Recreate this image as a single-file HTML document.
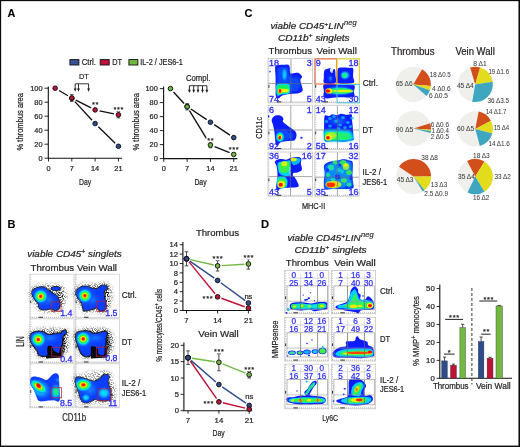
<!DOCTYPE html>
<html><head><meta charset="utf-8"><style>
html,body{margin:0;padding:0;background:#fff;}
svg{display:block;will-change:transform;}
text{font-family:"Liberation Sans",sans-serif;}
</style></head><body>
<svg width="520" height="447" viewBox="0 0 520 447">
<defs>
<filter id="b1" x="-20%" y="-20%" width="140%" height="140%"><feGaussianBlur stdDeviation="0.6"/></filter>
<filter id="b2" x="-30%" y="-30%" width="160%" height="160%"><feGaussianBlur stdDeviation="1.0"/></filter>
<filter id="b3" x="-50%" y="-50%" width="200%" height="200%"><feGaussianBlur stdDeviation="1.6"/></filter>
<filter id="b4" x="-50%" y="-50%" width="200%" height="200%"><feGaussianBlur stdDeviation="2.4"/></filter>
<filter id="speck" x="-30%" y="-30%" width="160%" height="160%">
<feGaussianBlur in="SourceGraphic" stdDeviation="2.2" result="bl"/>
<feTurbulence type="fractalNoise" baseFrequency="0.9" numOctaves="2" seed="7" result="nz"/>
<feColorMatrix in="nz" type="matrix" values="0 0 0 0 0  0 0 0 0 0  0 0 0 0 0  5 0 0 0 -2.2" result="nm"/>
<feComposite in="bl" in2="nm" operator="in"/>
</filter>
<radialGradient id="hot">
<stop offset="0" stop-color="#ff0000"/>
<stop offset="0.16" stop-color="#ff3000"/>
<stop offset="0.3" stop-color="#ffe800"/>
<stop offset="0.46" stop-color="#30ff20"/>
<stop offset="0.64" stop-color="#00e8f0"/>
<stop offset="0.82" stop-color="#1090ff" stop-opacity="0.8"/>
<stop offset="1" stop-color="#1060ff" stop-opacity="0"/>
</radialGradient>
<radialGradient id="warm">
<stop offset="0" stop-color="#ffff00"/>
<stop offset="0.35" stop-color="#40ff30"/>
<stop offset="0.7" stop-color="#00e8f0"/>
<stop offset="1" stop-color="#00c8ff" stop-opacity="0"/>
</radialGradient>
<radialGradient id="grn">
<stop offset="0" stop-color="#20ff40"/>
<stop offset="0.55" stop-color="#10f0a0"/>
<stop offset="0.8" stop-color="#00e0f0" stop-opacity="0.8"/>
<stop offset="1" stop-color="#00c0ff" stop-opacity="0"/>
</radialGradient>
<radialGradient id="cyan">
<stop offset="0" stop-color="#00f0f0"/>
<stop offset="0.5" stop-color="#10b8ff"/>
<stop offset="1" stop-color="#1080ff" stop-opacity="0"/>
</radialGradient>
<radialGradient id="lblue">
<stop offset="0" stop-color="#1890ff"/>
<stop offset="1" stop-color="#1060ff" stop-opacity="0"/>
</radialGradient>
</defs>
<rect x="0" y="0" width="520" height="447" fill="#fff"/>
<g fill="#231f20">
<text x="7.40" y="16.90" font-size="10.8" stroke="#000" stroke-width="0.1" font-weight="bold" fill="#000">A</text>
<rect x="69.90" y="59.60" width="9.00" height="5.40" fill="#355494" stroke="#111" stroke-width="0.9"/>
<text x="81.70" y="65.10" font-size="8.2" stroke="#231f20" stroke-width="0.22" fill="#231f20" textLength="14.2" lengthAdjust="spacingAndGlyphs">Ctrl.</text>
<rect x="100.20" y="59.60" width="9.00" height="5.40" fill="#be1237" stroke="#111" stroke-width="0.9"/>
<text x="112.30" y="65.10" font-size="8.2" stroke="#231f20" stroke-width="0.22" fill="#231f20" textLength="9.8" lengthAdjust="spacingAndGlyphs">DT</text>
<rect x="128.90" y="59.60" width="9.00" height="5.40" fill="#72b843" stroke="#111" stroke-width="0.9"/>
<text x="140.30" y="65.10" font-size="8.2" stroke="#231f20" stroke-width="0.22" fill="#231f20" textLength="42.5" lengthAdjust="spacingAndGlyphs">IL-2 / JES6-1</text>
<line x1="48.30" y1="86.50" x2="48.30" y2="158.60" stroke="#111" stroke-width="1.1"/>
<line x1="47.90" y1="158.20" x2="122.00" y2="158.20" stroke="#111" stroke-width="1.1"/>
<line x1="44.50" y1="158.20" x2="48.50" y2="158.20" stroke="#111" stroke-width="0.9"/>
<text x="42.50" y="160.80" font-size="7.4" stroke="#231f20" stroke-width="0.22" text-anchor="end" fill="#231f20">0</text>
<line x1="44.50" y1="144.20" x2="48.50" y2="144.20" stroke="#111" stroke-width="0.9"/>
<text x="42.50" y="146.80" font-size="7.4" stroke="#231f20" stroke-width="0.22" text-anchor="end" fill="#231f20">20</text>
<line x1="44.50" y1="130.20" x2="48.50" y2="130.20" stroke="#111" stroke-width="0.9"/>
<text x="42.50" y="132.80" font-size="7.4" stroke="#231f20" stroke-width="0.22" text-anchor="end" fill="#231f20">40</text>
<line x1="44.50" y1="116.20" x2="48.50" y2="116.20" stroke="#111" stroke-width="0.9"/>
<text x="42.50" y="118.80" font-size="7.4" stroke="#231f20" stroke-width="0.22" text-anchor="end" fill="#231f20">60</text>
<line x1="44.50" y1="102.20" x2="48.50" y2="102.20" stroke="#111" stroke-width="0.9"/>
<text x="42.50" y="104.80" font-size="7.4" stroke="#231f20" stroke-width="0.22" text-anchor="end" fill="#231f20">80</text>
<line x1="44.50" y1="88.20" x2="48.50" y2="88.20" stroke="#111" stroke-width="0.9"/>
<text x="42.50" y="90.80" font-size="7.4" stroke="#231f20" stroke-width="0.22" text-anchor="end" fill="#231f20">100</text>
<line x1="48.50" y1="158.20" x2="48.50" y2="161.50" stroke="#111" stroke-width="0.9"/>
<text x="48.50" y="171.20" font-size="7.4" stroke="#231f20" stroke-width="0.22" text-anchor="middle" fill="#231f20">0</text>
<line x1="71.81" y1="158.20" x2="71.81" y2="161.50" stroke="#111" stroke-width="0.9"/>
<text x="71.81" y="171.20" font-size="7.4" stroke="#231f20" stroke-width="0.22" text-anchor="middle" fill="#231f20">7</text>
<line x1="95.12" y1="158.20" x2="95.12" y2="161.50" stroke="#111" stroke-width="0.9"/>
<text x="95.12" y="171.20" font-size="7.4" stroke="#231f20" stroke-width="0.22" text-anchor="middle" fill="#231f20">14</text>
<line x1="118.43" y1="158.20" x2="118.43" y2="161.50" stroke="#111" stroke-width="0.9"/>
<text x="118.43" y="171.20" font-size="7.4" stroke="#231f20" stroke-width="0.22" text-anchor="middle" fill="#231f20">21</text>
<text x="85.20" y="184.70" font-size="9.0" stroke="#231f20" stroke-width="0.22" text-anchor="middle" fill="#231f20" textLength="12.2" lengthAdjust="spacingAndGlyphs">Day</text>
<text x="23.40" y="121.75" font-size="8.9" stroke="#231f20" stroke-width="0.22" text-anchor="middle" fill="#231f20" textLength="57.5" lengthAdjust="spacingAndGlyphs" transform="rotate(-90 23.40 121.75)">% thrombus area</text>
<text x="78.90" y="79.00" font-size="7.8" stroke="#231f20" stroke-width="0.22" fill="#231f20" textLength="9.9" lengthAdjust="spacingAndGlyphs">DT</text>
<line x1="75.20" y1="83.80" x2="88.60" y2="83.80" stroke="#231f20" stroke-width="0.9"/>
<line x1="75.20" y1="83.80" x2="75.20" y2="89.30" stroke="#231f20" stroke-width="0.95"/>
<path d="M73.75,88.40 L76.65,88.40 L75.20,91.80 Z" fill="#231f20"/>
<line x1="78.50" y1="83.80" x2="78.50" y2="89.30" stroke="#231f20" stroke-width="0.95"/>
<path d="M77.05,88.40 L79.95,88.40 L78.50,91.80 Z" fill="#231f20"/>
<line x1="88.60" y1="83.80" x2="88.60" y2="89.30" stroke="#231f20" stroke-width="0.95"/>
<path d="M87.15,88.40 L90.05,88.40 L88.60,91.80 Z" fill="#231f20"/>
<line x1="74.87" y1="101.65" x2="92.06" y2="120.25" stroke="#111" stroke-width="1.35"/>
<line x1="98.34" y1="126.69" x2="115.21" y2="143.16" stroke="#111" stroke-width="1.35"/>
<line x1="59.04" y1="90.48" x2="67.93" y2="95.72" stroke="#111" stroke-width="1.35"/>
<line x1="75.82" y1="100.05" x2="91.11" y2="107.85" stroke="#111" stroke-width="1.35"/>
<line x1="99.52" y1="110.83" x2="114.03" y2="113.87" stroke="#111" stroke-width="1.35"/>
<line x1="71.81" y1="94.64" x2="71.81" y2="101.36" stroke="#222" stroke-width="0.8"/>
<line x1="70.01" y1="94.64" x2="73.61" y2="94.64" stroke="#222" stroke-width="0.8"/>
<line x1="70.01" y1="101.36" x2="73.61" y2="101.36" stroke="#222" stroke-width="0.8"/>
<line x1="95.12" y1="109.06" x2="95.12" y2="110.74" stroke="#222" stroke-width="0.8"/>
<line x1="93.32" y1="109.06" x2="96.92" y2="109.06" stroke="#222" stroke-width="0.8"/>
<line x1="93.32" y1="110.74" x2="96.92" y2="110.74" stroke="#222" stroke-width="0.8"/>
<line x1="118.43" y1="111.72" x2="118.43" y2="117.88" stroke="#222" stroke-width="0.8"/>
<line x1="116.63" y1="111.72" x2="120.23" y2="111.72" stroke="#222" stroke-width="0.8"/>
<line x1="116.63" y1="117.88" x2="120.23" y2="117.88" stroke="#222" stroke-width="0.8"/>
<circle cx="71.81" cy="98.35" r="2.3" fill="#2e4b8b" stroke="#111" stroke-width="0.95"/>
<circle cx="95.12" cy="123.55" r="2.3" fill="#2e4b8b" stroke="#111" stroke-width="0.95"/>
<circle cx="118.43" cy="146.30" r="2.3" fill="#2e4b8b" stroke="#111" stroke-width="0.95"/>
<circle cx="55.16" cy="88.20" r="2.3" fill="#be1237" stroke="#111" stroke-width="0.95"/>
<circle cx="71.81" cy="98.00" r="2.3" fill="#be1237" stroke="#111" stroke-width="0.95"/>
<circle cx="95.12" cy="109.90" r="2.3" fill="#be1237" stroke="#111" stroke-width="0.95"/>
<circle cx="118.43" cy="114.80" r="2.3" fill="#be1237" stroke="#111" stroke-width="0.95"/>
<text x="95.47" y="106.99" font-size="7.4" stroke="#fff" stroke-width="2.6" text-anchor="middle" fill="#fff" letter-spacing="0.7">**</text>
<text x="95.47" y="106.99" font-size="7.4" stroke="#231f20" stroke-width="0.22" text-anchor="middle" fill="#231f20" letter-spacing="0.7">**</text>
<text x="118.78" y="111.75" font-size="7.4" stroke="#fff" stroke-width="2.6" text-anchor="middle" fill="#fff" letter-spacing="0.7">***</text>
<text x="118.78" y="111.75" font-size="7.4" stroke="#231f20" stroke-width="0.22" text-anchor="middle" fill="#231f20" letter-spacing="0.7">***</text>
<line x1="163.60" y1="86.50" x2="163.60" y2="159.00" stroke="#111" stroke-width="1.1"/>
<line x1="163.20" y1="158.60" x2="237.30" y2="158.60" stroke="#111" stroke-width="1.1"/>
<line x1="159.80" y1="158.60" x2="163.80" y2="158.60" stroke="#111" stroke-width="0.9"/>
<text x="157.80" y="161.20" font-size="7.4" stroke="#231f20" stroke-width="0.22" text-anchor="end" fill="#231f20">0</text>
<line x1="159.80" y1="144.60" x2="163.80" y2="144.60" stroke="#111" stroke-width="0.9"/>
<text x="157.80" y="147.20" font-size="7.4" stroke="#231f20" stroke-width="0.22" text-anchor="end" fill="#231f20">20</text>
<line x1="159.80" y1="130.60" x2="163.80" y2="130.60" stroke="#111" stroke-width="0.9"/>
<text x="157.80" y="133.20" font-size="7.4" stroke="#231f20" stroke-width="0.22" text-anchor="end" fill="#231f20">40</text>
<line x1="159.80" y1="116.60" x2="163.80" y2="116.60" stroke="#111" stroke-width="0.9"/>
<text x="157.80" y="119.20" font-size="7.4" stroke="#231f20" stroke-width="0.22" text-anchor="end" fill="#231f20">60</text>
<line x1="159.80" y1="102.60" x2="163.80" y2="102.60" stroke="#111" stroke-width="0.9"/>
<text x="157.80" y="105.20" font-size="7.4" stroke="#231f20" stroke-width="0.22" text-anchor="end" fill="#231f20">80</text>
<line x1="159.80" y1="88.60" x2="163.80" y2="88.60" stroke="#111" stroke-width="0.9"/>
<text x="157.80" y="91.20" font-size="7.4" stroke="#231f20" stroke-width="0.22" text-anchor="end" fill="#231f20">100</text>
<line x1="163.80" y1="158.60" x2="163.80" y2="161.90" stroke="#111" stroke-width="0.9"/>
<text x="163.80" y="171.20" font-size="7.4" stroke="#231f20" stroke-width="0.22" text-anchor="middle" fill="#231f20">0</text>
<line x1="187.11" y1="158.60" x2="187.11" y2="161.90" stroke="#111" stroke-width="0.9"/>
<text x="187.11" y="171.20" font-size="7.4" stroke="#231f20" stroke-width="0.22" text-anchor="middle" fill="#231f20">7</text>
<line x1="210.42" y1="158.60" x2="210.42" y2="161.90" stroke="#111" stroke-width="0.9"/>
<text x="210.42" y="171.20" font-size="7.4" stroke="#231f20" stroke-width="0.22" text-anchor="middle" fill="#231f20">14</text>
<line x1="233.73" y1="158.60" x2="233.73" y2="161.90" stroke="#111" stroke-width="0.9"/>
<text x="233.73" y="171.20" font-size="7.4" stroke="#231f20" stroke-width="0.22" text-anchor="middle" fill="#231f20">21</text>
<text x="200.50" y="184.70" font-size="9.0" stroke="#231f20" stroke-width="0.22" text-anchor="middle" fill="#231f20" textLength="12.2" lengthAdjust="spacingAndGlyphs">Day</text>
<text x="138.60" y="121.75" font-size="8.9" stroke="#231f20" stroke-width="0.22" text-anchor="middle" fill="#231f20" textLength="57.5" lengthAdjust="spacingAndGlyphs" transform="rotate(-90 138.60 121.75)">% thrombus area</text>
<text x="185.90" y="80.90" font-size="8.7" stroke="#231f20" stroke-width="0.22" fill="#231f20" textLength="24.4" lengthAdjust="spacingAndGlyphs">Compl.</text>
<line x1="189.40" y1="85.70" x2="206.90" y2="85.70" stroke="#231f20" stroke-width="0.9"/>
<line x1="189.40" y1="85.70" x2="189.40" y2="90.60" stroke="#231f20" stroke-width="0.95"/>
<path d="M187.95,89.70 L190.85,89.70 L189.40,93.10 Z" fill="#231f20"/>
<line x1="193.70" y1="85.70" x2="193.70" y2="90.60" stroke="#231f20" stroke-width="0.95"/>
<path d="M192.25,89.70 L195.15,89.70 L193.70,93.10 Z" fill="#231f20"/>
<line x1="198.00" y1="85.70" x2="198.00" y2="90.60" stroke="#231f20" stroke-width="0.95"/>
<path d="M196.55,89.70 L199.45,89.70 L198.00,93.10 Z" fill="#231f20"/>
<line x1="202.50" y1="85.70" x2="202.50" y2="90.60" stroke="#231f20" stroke-width="0.95"/>
<path d="M201.05,89.70 L203.95,89.70 L202.50,93.10 Z" fill="#231f20"/>
<line x1="206.90" y1="85.70" x2="206.90" y2="90.60" stroke="#231f20" stroke-width="0.95"/>
<path d="M205.45,89.70 L208.35,89.70 L206.90,93.10 Z" fill="#231f20"/>
<line x1="190.84" y1="108.97" x2="206.69" y2="119.68" stroke="#111" stroke-width="1.35"/>
<line x1="214.17" y1="124.68" x2="229.98" y2="135.12" stroke="#111" stroke-width="1.35"/>
<line x1="173.50" y1="91.92" x2="184.07" y2="103.48" stroke="#111" stroke-width="1.35"/>
<line x1="189.45" y1="110.64" x2="208.08" y2="141.18" stroke="#111" stroke-width="1.35"/>
<line x1="214.59" y1="146.70" x2="229.56" y2="152.72" stroke="#111" stroke-width="1.35"/>
<line x1="187.11" y1="103.65" x2="187.11" y2="109.95" stroke="#222" stroke-width="0.8"/>
<line x1="185.31" y1="103.65" x2="188.91" y2="103.65" stroke="#222" stroke-width="0.8"/>
<line x1="185.31" y1="109.95" x2="188.91" y2="109.95" stroke="#222" stroke-width="0.8"/>
<line x1="210.42" y1="142.29" x2="210.42" y2="147.75" stroke="#222" stroke-width="0.8"/>
<line x1="208.62" y1="142.29" x2="212.22" y2="142.29" stroke="#222" stroke-width="0.8"/>
<line x1="208.62" y1="147.75" x2="212.22" y2="147.75" stroke="#222" stroke-width="0.8"/>
<circle cx="187.11" cy="106.45" r="2.3" fill="#2e4b8b" stroke="#111" stroke-width="0.95"/>
<circle cx="210.42" cy="122.20" r="2.3" fill="#2e4b8b" stroke="#111" stroke-width="0.95"/>
<circle cx="233.73" cy="137.60" r="2.3" fill="#2e4b8b" stroke="#111" stroke-width="0.95"/>
<circle cx="170.46" cy="88.60" r="2.3" fill="#72b843" stroke="#111" stroke-width="0.95"/>
<circle cx="187.11" cy="106.80" r="2.3" fill="#72b843" stroke="#111" stroke-width="0.95"/>
<circle cx="210.42" cy="145.02" r="2.3" fill="#72b843" stroke="#111" stroke-width="0.95"/>
<circle cx="233.73" cy="154.40" r="2.3" fill="#72b843" stroke="#111" stroke-width="0.95"/>
<text x="210.77" y="142.95" font-size="7.4" stroke="#fff" stroke-width="2.6" text-anchor="middle" fill="#fff" letter-spacing="0.7">**</text>
<text x="210.77" y="142.95" font-size="7.4" stroke="#231f20" stroke-width="0.22" text-anchor="middle" fill="#231f20" letter-spacing="0.7">**</text>
<text x="234.08" y="152.40" font-size="7.4" stroke="#fff" stroke-width="2.6" text-anchor="middle" fill="#fff" letter-spacing="0.7">***</text>
<text x="234.08" y="152.40" font-size="7.4" stroke="#231f20" stroke-width="0.22" text-anchor="middle" fill="#231f20" letter-spacing="0.7">***</text>
<text x="244.40" y="16.70" font-size="11.0" stroke="#000" stroke-width="0.1" font-weight="bold" fill="#000">C</text>
<text x="270.40" y="29.00" font-size="9.0" fill="#231f20" stroke="#231f20" stroke-width="0.22" font-style="italic" textLength="73.2" lengthAdjust="spacingAndGlyphs">viable CD45<tspan font-size="6.12" dy="-3.2">+</tspan><tspan dy="3.2">LIN</tspan></text>
<text x="344.00" y="25.40" font-size="7.0" stroke="#231f20" stroke-width="0.15" font-style="italic" fill="#231f20" textLength="12.6" lengthAdjust="spacingAndGlyphs">neg</text>
<text x="278.00" y="40.60" font-size="9.2" fill="#231f20" stroke="#231f20" stroke-width="0.22" font-style="italic" textLength="71.6" lengthAdjust="spacingAndGlyphs">CD11b<tspan font-size="6.26" dy="-3.2">+</tspan><tspan dy="3.2"> singlets</tspan></text>
<text x="268.50" y="54.40" font-size="9.3" stroke="#231f20" stroke-width="0.22" fill="#231f20" textLength="43.6" lengthAdjust="spacingAndGlyphs">Thrombus</text>
<text x="316.60" y="54.40" font-size="9.3" stroke="#231f20" stroke-width="0.22" fill="#231f20" textLength="40.3" lengthAdjust="spacingAndGlyphs">Vein Wall</text>
<rect x="268.00" y="58.60" width="44.40" height="44.20" fill="#fff" stroke="#c4c4c4" stroke-width="0.8"/>
<rect x="314.80" y="58.60" width="44.40" height="44.20" fill="#fff" stroke="#c4c4c4" stroke-width="0.8"/>
<rect x="268.00" y="105.20" width="44.40" height="44.20" fill="#fff" stroke="#c4c4c4" stroke-width="0.8"/>
<rect x="314.80" y="105.20" width="44.40" height="44.20" fill="#fff" stroke="#c4c4c4" stroke-width="0.8"/>
<rect x="268.00" y="152.00" width="44.40" height="44.20" fill="#fff" stroke="#c4c4c4" stroke-width="0.8"/>
<rect x="314.80" y="152.00" width="44.40" height="44.20" fill="#fff" stroke="#c4c4c4" stroke-width="0.8"/>
<path d="M276.19,65.63 C277.49,65.03 280.75,64.90 282.90,64.84 C285.04,64.79 287.84,63.95 289.05,65.29 C290.26,66.63 289.61,71.54 290.17,72.90 C290.73,74.26 291.01,73.46 292.40,73.46 C293.80,73.46 296.94,72.34 298.56,72.90 C300.18,73.46 301.86,75.60 302.14,76.81 C302.42,78.02 300.27,78.58 300.23,80.17 C300.20,81.75 301.52,84.55 301.91,86.32 C302.30,88.09 303.14,89.64 302.58,90.79 C302.02,91.95 300.35,92.75 298.56,93.26 C296.77,93.76 294.46,93.48 291.85,93.81 C289.24,94.15 285.13,94.50 282.90,95.27 C280.66,96.03 279.58,98.18 278.42,98.40 C277.27,98.62 276.43,98.25 275.96,96.61 C275.50,94.97 275.68,91.76 275.63,88.56 C275.57,85.35 275.72,80.73 275.63,77.37 C275.53,74.02 274.97,70.38 275.07,68.42 C275.16,66.47 274.88,66.22 276.19,65.63 Z" fill="#0a1cff" filter="url(#b1)"/>
<path d="M277.86,68.42 C279.54,66.84 285.51,66.93 287.37,67.86 C289.24,68.80 288.30,72.43 289.05,74.02 C289.79,75.60 290.26,76.81 291.85,77.37 C293.43,77.93 297.25,75.51 298.56,77.37 C299.86,79.24 300.79,86.13 299.68,88.56 C298.56,90.98 295.01,91.17 291.85,91.91 C288.68,92.66 283.08,93.59 280.66,93.03 C278.24,92.47 277.86,91.17 277.30,88.56 C276.74,85.95 277.21,80.73 277.30,77.37 C277.40,74.02 276.19,70.01 277.86,68.42 Z" fill="#0a48ff" filter="url(#b2)"/>
<ellipse cx="284.50" cy="74.50" rx="3.2" ry="7.5" fill="url(#cyan)" filter="url(#b1)" opacity="0.9"/>
<path d="M276.74,84.64 C277.86,83.43 280.85,83.58 282.90,83.52 C284.95,83.47 287.89,83.47 289.05,84.31 C290.21,85.15 289.83,87.01 289.83,88.56 C289.83,90.10 290.39,92.62 289.05,93.59 C287.71,94.56 283.70,94.00 281.78,94.37 C279.86,94.75 278.46,96.42 277.53,95.83 C276.60,95.23 276.32,92.66 276.19,90.79 C276.06,88.93 275.63,85.85 276.74,84.64 Z" fill="#00d8f8" filter="url(#b1)"/>
<path d="M277.53,85.76 C278.68,84.79 282.19,84.92 284.02,84.98 C285.84,85.03 287.71,84.94 288.49,86.10 C289.27,87.25 289.65,90.72 288.71,91.91 C287.78,93.11 284.65,92.84 282.90,93.26 C281.14,93.67 279.17,94.78 278.20,94.37 C277.23,93.96 277.19,92.23 277.08,90.79 C276.97,89.36 276.37,86.73 277.53,85.76 Z" fill="#10f060" filter="url(#b1)"/>
<ellipse cx="284.00" cy="90.60" rx="5.0" ry="1.9" fill="#f8f000" filter="url(#b1)"/>
<ellipse cx="280.20" cy="90.90" rx="2.3" ry="2.6" fill="#f8f000" filter="url(#b1)"/>
<ellipse cx="280.00" cy="90.90" rx="1.4" ry="2.0" fill="#ff1000" filter="url(#b1)"/>
<ellipse cx="270.00" cy="71.50" rx="0.7" ry="1.0" fill="#0a1cff"/>
<path d="M324.32,70.66 C324.80,69.26 325.72,69.39 326.78,68.98 C327.84,68.57 329.76,68.01 330.69,68.20 C331.63,68.39 331.68,69.91 332.37,70.10 C333.06,70.29 334.31,68.48 334.83,69.32 C335.35,70.16 335.43,72.86 335.50,75.13 C335.58,77.41 337.11,81.62 335.28,82.96 C333.45,84.31 326.44,84.12 324.54,83.19 C322.64,82.26 323.91,79.46 323.87,77.37 C323.83,75.28 323.83,72.06 324.32,70.66 Z" fill="#0a1cff" filter="url(#b1)"/>
<path d="M337.96,68.42 C339.05,67.16 341.51,67.62 343.56,67.53 C345.61,67.43 348.67,67.71 350.27,67.86 C351.87,68.01 352.71,67.02 353.18,68.42 C353.64,69.82 353.06,73.83 353.06,76.25 C353.06,78.68 355.79,81.81 353.18,82.96 C350.57,84.12 340.09,84.49 337.40,83.19 C334.72,81.88 336.98,77.60 337.07,75.13 C337.16,72.67 336.88,69.69 337.96,68.42 Z" fill="#0a1cff" filter="url(#b1)"/>
<path d="M324.32,84.31 C326.67,83.23 333.08,84.19 337.96,84.31 C342.85,84.42 350.98,83.71 353.62,84.98 C356.27,86.25 353.89,89.90 353.85,91.91 C353.81,93.93 356.05,96.16 353.40,97.06 C350.75,97.95 342.74,97.11 337.96,97.28 C333.19,97.45 327.11,99.15 324.77,98.06 C322.42,96.98 323.94,93.09 323.87,90.79 C323.80,88.50 321.97,85.39 324.32,84.31 Z" fill="#0a1cff" filter="url(#b1)"/>
<path d="M330.13,68.98 C330.56,68.46 332.56,67.99 332.93,68.65 C333.30,69.30 332.80,72.38 332.37,72.90 C331.94,73.42 330.73,72.43 330.36,71.78 C329.99,71.13 329.71,69.50 330.13,68.98 Z" fill="#ffffff" filter="url(#b1)" opacity="0.85"/>
<ellipse cx="345.00" cy="75.20" rx="5.5" ry="5.0" fill="url(#cyan)" filter="url(#b1)"/>
<ellipse cx="344.50" cy="75.50" rx="2.6" ry="2.4" fill="#20f080" filter="url(#b1)" opacity="0.9"/>
<ellipse cx="330.50" cy="78.50" rx="3.0" ry="4.0" fill="url(#lblue)" filter="url(#b1)"/>
<ellipse cx="339.50" cy="90.80" rx="15.5" ry="5.2" fill="url(#cyan)" filter="url(#b1)"/>
<ellipse cx="340.50" cy="91.00" rx="13.0" ry="3.0" fill="#20f070" filter="url(#b1)" opacity="0.95"/>
<ellipse cx="343.00" cy="91.00" rx="10.0" ry="1.3" fill="#f0f000" filter="url(#b1)" opacity="0.95"/>
<ellipse cx="329.00" cy="90.90" rx="3.6" ry="2.6" fill="#f0f000" filter="url(#b1)"/>
<ellipse cx="327.80" cy="91.00" rx="2.3" ry="1.8" fill="#ff1000" filter="url(#b1)"/>
<path d="M274.51,115.98 C276.00,115.27 279.17,115.18 280.66,115.65 C282.15,116.11 283.08,117.79 283.46,118.78 C283.83,119.77 282.24,120.46 282.90,121.57 C283.55,122.69 285.97,124.37 287.37,125.49 C288.77,126.61 289.98,127.32 291.29,128.29 C292.59,129.26 294.33,130.09 295.20,131.31 C296.08,132.52 296.64,134.07 296.54,135.56 C296.45,137.05 295.61,139.40 294.64,140.26 C293.67,141.11 292.87,140.44 290.73,140.70 C288.58,140.96 284.02,141.04 281.78,141.82 C279.54,142.60 278.33,145.14 277.30,145.40 C276.28,145.66 276.00,144.65 275.63,143.39 C275.25,142.12 275.25,139.66 275.07,137.79 C274.88,135.93 274.88,134.44 274.51,132.20 C274.13,129.96 273.30,126.42 272.83,124.37 C272.36,122.32 271.43,121.30 271.71,119.90 C271.99,118.50 273.02,116.69 274.51,115.98 Z" fill="#0a1cff" filter="url(#b1)"/>
<path d="M276.19,131.08 C277.58,129.78 282.52,129.59 285.13,129.96 C287.74,130.34 290.54,132.01 291.85,133.32 C293.15,134.62 293.71,136.68 292.96,137.79 C292.22,138.91 289.61,139.57 287.37,140.03 C285.13,140.50 281.31,140.96 279.54,140.59 C277.77,140.22 277.30,139.38 276.74,137.79 C276.19,136.21 274.79,132.39 276.19,131.08 Z" fill="#0a48ff" filter="url(#b2)"/>
<ellipse cx="280.00" cy="137.00" rx="4.8" ry="5.6" fill="url(#hot)"/>
<ellipse cx="279.60" cy="137.80" rx="1.3" ry="1.6" fill="#ff0000" filter="url(#b1)"/>
<ellipse cx="301.40" cy="137.80" rx="1.1" ry="1.0" fill="#0a1cff"/>
<ellipse cx="268.60" cy="116.40" rx="0.7" ry="1.2" fill="#0a1cff"/>
<path d="M324.32,117.66 C324.58,115.76 324.78,115.48 325.66,115.20 C326.54,114.92 328.46,116.13 329.57,115.98 C330.69,115.83 331.16,114.43 332.37,114.30 C333.58,114.17 335.35,115.29 336.85,115.20 C338.34,115.11 339.64,113.80 341.32,113.74 C343.00,113.69 345.20,114.73 346.91,114.86 C348.63,114.99 350.77,113.88 351.61,114.53 C352.45,115.18 351.80,117.14 351.95,118.78 C352.10,120.42 352.32,122.32 352.51,124.37 C352.69,126.42 352.92,128.85 353.06,131.08 C353.21,133.32 353.38,136.30 353.40,137.79 C353.42,139.29 354.82,139.38 353.18,140.03 C351.54,140.68 347.02,141.49 343.56,141.71 C340.09,141.93 335.45,141.43 332.37,141.37 C329.30,141.32 326.52,142.34 325.10,141.37 C323.68,140.40 324.04,138.02 323.87,135.56 C323.70,133.10 324.02,129.59 324.09,126.61 C324.17,123.63 324.06,119.56 324.32,117.66 Z" fill="#0a1cff" filter="url(#b1)"/>
<ellipse cx="338.00" cy="121.00" rx="13" ry="6" fill="url(#lblue)" filter="url(#b2)" opacity="0.8"/>
<ellipse cx="330.00" cy="118.50" rx="1.8" ry="1.5" fill="#10c0ff" filter="url(#b1)" opacity="0.75"/>
<ellipse cx="336.00" cy="121.00" rx="1.8" ry="1.5" fill="#10c0ff" filter="url(#b1)" opacity="0.75"/>
<ellipse cx="343.00" cy="117.50" rx="1.8" ry="1.5" fill="#10c0ff" filter="url(#b1)" opacity="0.75"/>
<ellipse cx="348.00" cy="122.50" rx="1.8" ry="1.5" fill="#10c0ff" filter="url(#b1)" opacity="0.75"/>
<ellipse cx="340.00" cy="125.00" rx="1.8" ry="1.5" fill="#10c0ff" filter="url(#b1)" opacity="0.75"/>
<ellipse cx="330.00" cy="126.00" rx="1.8" ry="1.5" fill="#10c0ff" filter="url(#b1)" opacity="0.75"/>
<ellipse cx="352.00" cy="118.00" rx="1.8" ry="1.5" fill="#10c0ff" filter="url(#b1)" opacity="0.75"/>
<ellipse cx="345.00" cy="127.50" rx="1.8" ry="1.5" fill="#10c0ff" filter="url(#b1)" opacity="0.75"/>
<ellipse cx="326.50" cy="121.50" rx="1.8" ry="1.5" fill="#10c0ff" filter="url(#b1)" opacity="0.75"/>
<ellipse cx="334.00" cy="116.50" rx="1.8" ry="1.5" fill="#10c0ff" filter="url(#b1)" opacity="0.75"/>
<ellipse cx="350.50" cy="126.50" rx="1.8" ry="1.5" fill="#10c0ff" filter="url(#b1)" opacity="0.75"/>
<ellipse cx="338.50" cy="128.50" rx="1.8" ry="1.5" fill="#10c0ff" filter="url(#b1)" opacity="0.75"/>
<path d="M324.32,130.19 C325.70,129.16 329.16,129.44 332.37,129.40 C335.58,129.37 340.57,129.68 343.56,129.96 C346.54,130.24 348.68,130.15 350.27,131.08 C351.85,132.01 352.60,134.07 353.06,135.56 C353.53,137.05 354.65,139.06 353.06,140.03 C351.48,141.00 347.01,141.19 343.56,141.37 C340.11,141.56 335.45,141.19 332.37,141.15 C329.30,141.11 326.48,142.08 325.10,141.15 C323.72,140.22 324.22,137.38 324.09,135.56 C323.96,133.73 322.94,131.21 324.32,130.19 Z" fill="#00d8f0" filter="url(#b2)"/>
<path d="M325.10,132.76 C326.74,132.07 331.53,131.98 334.61,131.98 C337.68,131.98 341.13,132.44 343.56,132.76 C345.98,133.08 347.94,133.04 349.15,133.88 C350.36,134.72 351.39,136.81 350.83,137.79 C350.27,138.78 348.87,139.40 345.79,139.81 C342.72,140.22 335.73,140.22 332.37,140.26 C329.02,140.29 326.93,140.72 325.66,140.03 C324.39,139.34 324.86,137.33 324.77,136.12 C324.67,134.90 323.46,133.45 325.10,132.76 Z" fill="#20f070" filter="url(#b1)"/>
<ellipse cx="331.50" cy="135.50" rx="5.0" ry="3.5" fill="#c0f020" filter="url(#b1)" opacity="0.8"/>
<ellipse cx="328.50" cy="137.40" rx="3.4" ry="3.0" fill="#f8f000" filter="url(#b1)"/>
<ellipse cx="328.00" cy="137.80" rx="1.9" ry="1.7" fill="#ff1000" filter="url(#b1)"/>
<path d="M274.84,161.86 C275.31,160.56 277.64,159.44 279.54,159.07 C281.44,158.69 284.30,159.85 286.25,159.63 C288.21,159.40 289.24,158.15 291.29,157.72 C293.34,157.30 296.88,156.83 298.56,157.05 C300.23,157.28 300.98,157.99 301.35,159.07 C301.73,160.15 300.70,161.77 300.79,163.54 C300.89,165.31 302.47,168.20 301.91,169.69 C301.35,171.18 298.84,171.93 297.44,172.49 C296.04,173.05 294.27,172.49 293.52,173.05 C292.78,173.61 292.68,175.01 292.96,175.85 C293.24,176.68 294.27,176.59 295.20,178.08 C296.13,179.57 298.18,183.30 298.56,184.79 C298.93,186.29 298.74,186.57 297.44,187.03 C296.13,187.50 293.34,187.37 290.73,187.59 C288.12,187.81 284.02,187.87 281.78,188.37 C279.54,188.88 278.24,191.02 277.30,190.61 C276.37,190.20 276.15,188.19 276.19,185.91 C276.22,183.64 277.43,180.13 277.53,176.96 C277.62,173.79 277.19,169.41 276.74,166.90 C276.30,164.38 274.38,163.17 274.84,161.86 Z" fill="#0a1cff" filter="url(#b1)"/>
<path d="M278.42,162.42 C280.01,161.21 285.32,160.93 287.37,160.74 C289.42,160.56 290.26,159.53 290.73,161.30 C291.19,163.08 290.45,168.95 290.17,171.37 C289.89,173.79 290.07,175.10 289.05,175.85 C288.02,176.59 285.60,176.22 284.02,175.85 C282.43,175.47 280.57,174.91 279.54,173.61 C278.52,172.30 278.05,169.88 277.86,168.02 C277.68,166.15 276.84,163.63 278.42,162.42 Z" fill="#00d0f8" filter="url(#b1)"/>
<path d="M280.10,162.98 C281.50,161.77 286.35,161.58 287.93,161.86 C289.52,162.14 289.52,163.08 289.61,164.66 C289.70,166.24 289.61,169.97 288.49,171.37 C287.37,172.77 284.39,173.42 282.90,173.05 C281.41,172.68 280.01,170.81 279.54,169.13 C279.08,167.46 278.70,164.19 280.10,162.98 Z" fill="#40f040" filter="url(#b1)" opacity="0.95"/>
<ellipse cx="284.30" cy="163.80" rx="3.0" ry="2.5" fill="#e8f010" filter="url(#b1)" opacity="0.9"/>
<path d="M291.29,158.51 C292.26,157.72 295.89,157.54 297.44,157.72 C298.99,157.91 300.38,158.66 300.57,159.63 C300.76,160.60 299.64,162.61 298.56,163.54 C297.48,164.47 295.24,165.41 294.08,165.22 C292.93,165.03 292.09,163.54 291.62,162.42 C291.16,161.30 290.32,159.29 291.29,158.51 Z" fill="#00c8f8" filter="url(#b1)" opacity="0.9"/>
<ellipse cx="293.60" cy="159.60" rx="3.2" ry="1.8" fill="#f0f000" filter="url(#b1)" opacity="0.9"/>
<ellipse cx="296.00" cy="166.00" rx="1.5" ry="1.5" fill="#0a1cff" filter="url(#b1)" opacity="0.8"/>
<path d="M277.53,177.52 C278.65,175.94 282.38,175.94 284.02,176.40 C285.66,176.87 287.00,178.55 287.37,180.32 C287.74,182.09 287.37,185.73 286.25,187.03 C285.13,188.34 282.15,188.34 280.66,188.15 C279.17,187.96 277.83,187.68 277.30,185.91 C276.78,184.14 276.41,179.11 277.53,177.52 Z" fill="#00d8f0" filter="url(#b1)"/>
<path d="M278.20,179.76 C279.13,178.68 282.11,178.03 283.46,178.31 C284.80,178.59 285.97,180.08 286.25,181.44 C286.53,182.80 286.07,185.50 285.13,186.47 C284.20,187.44 281.87,187.53 280.66,187.26 C279.45,186.98 278.27,186.04 277.86,184.79 C277.45,183.55 277.27,180.84 278.20,179.76 Z" fill="#30f050" filter="url(#b1)"/>
<ellipse cx="281.30" cy="184.50" rx="3.6" ry="3.4" fill="#f8f000" filter="url(#b1)"/>
<ellipse cx="280.70" cy="184.80" rx="2.1" ry="2.0" fill="#ff1000" filter="url(#b1)"/>
<rect x="289.6" y="167" width="1.2" height="9" fill="#fff" filter="url(#b1)" opacity="0.8"/>
<path d="M323.98,165.78 C324.60,163.88 326.87,162.98 328.46,162.20 C330.04,161.42 331.72,161.42 333.49,161.08 C335.26,160.74 337.40,160.48 339.08,160.19 C340.76,159.89 341.97,159.29 343.56,159.29 C345.14,159.29 347.10,159.76 348.59,160.19 C350.08,160.61 351.82,160.37 352.51,161.86 C353.20,163.35 352.77,166.80 352.73,169.13 C352.69,171.46 352.23,173.61 352.28,175.85 C352.34,178.08 352.95,180.47 353.06,182.56 C353.18,184.65 354.54,187.29 352.95,188.37 C351.37,189.45 346.99,188.99 343.56,189.04 C340.13,189.10 335.45,188.67 332.37,188.71 C329.30,188.75 326.52,190.29 325.10,189.27 C323.68,188.24 323.93,185.17 323.87,182.56 C323.81,179.95 324.75,176.40 324.77,173.61 C324.78,170.81 323.37,167.68 323.98,165.78 Z" fill="#0a1cff" filter="url(#b1)"/>
<path d="M325.66,166.34 C326.87,163.77 329.39,163.52 332.37,162.65 C335.35,161.77 340.39,161.02 343.56,161.08 C346.73,161.14 350.08,160.52 351.39,162.98 C352.69,165.44 351.39,171.84 351.39,175.85 C351.39,179.85 353.62,185.02 351.39,187.03 C349.15,189.04 342.25,187.78 337.96,187.93 C333.68,188.08 327.80,189.57 325.66,187.93 C323.52,186.29 325.10,181.68 325.10,178.08 C325.10,174.48 324.45,168.91 325.66,166.34 Z" fill="#10b0f8" filter="url(#b2)" opacity="0.75"/>
<ellipse cx="331.00" cy="167.50" rx="3.0" ry="3.0" fill="#20e8a0" filter="url(#b1)" opacity="0.9"/>
<ellipse cx="335.00" cy="162.50" rx="2.5" ry="2.0" fill="#30f060" filter="url(#b1)" opacity="0.85"/>
<ellipse cx="343.00" cy="163.00" rx="3.5" ry="3.0" fill="#40f050" filter="url(#b1)" opacity="0.85"/>
<ellipse cx="346.00" cy="166.50" rx="3.2" ry="3.6" fill="#a0f030" filter="url(#b1)" opacity="0.9"/>
<ellipse cx="349.00" cy="172.50" rx="3.0" ry="2.5" fill="#40f050" filter="url(#b1)" opacity="0.85"/>
<ellipse cx="342.00" cy="171.50" rx="2.0" ry="2.0" fill="#10d8d0" filter="url(#b1)" opacity="0.8"/>
<ellipse cx="328.00" cy="175.00" rx="2.2" ry="2.0" fill="#20e890" filter="url(#b1)" opacity="0.85"/>
<ellipse cx="344.00" cy="180.50" rx="3.0" ry="2.2" fill="#40f050" filter="url(#b1)" opacity="0.85"/>
<ellipse cx="349.00" cy="184.50" rx="2.5" ry="2.0" fill="#20e890" filter="url(#b1)" opacity="0.85"/>
<ellipse cx="338.50" cy="170.00" rx="2.2" ry="2.0" fill="#20e0c0" filter="url(#b1)" opacity="0.7"/>
<ellipse cx="333.00" cy="179.50" rx="2.5" ry="1.8" fill="#20e0b0" filter="url(#b1)" opacity="0.8"/>
<ellipse cx="337.60" cy="177.00" rx="2.6" ry="2.4" fill="#0a1cff" filter="url(#b1)" opacity="0.75"/>
<ellipse cx="327.50" cy="170.00" rx="1.8" ry="1.8" fill="#0a1cff" filter="url(#b1)" opacity="0.75"/>
<ellipse cx="340.00" cy="165.00" rx="1.6" ry="1.5" fill="#0a1cff" filter="url(#b1)" opacity="0.75"/>
<ellipse cx="351.00" cy="178.00" rx="1.6" ry="2.0" fill="#0a1cff" filter="url(#b1)" opacity="0.75"/>
<ellipse cx="336.00" cy="186.50" rx="1.5" ry="1.2" fill="#0a1cff" filter="url(#b1)" opacity="0.75"/>
<ellipse cx="346.50" cy="187.50" rx="1.8" ry="1.2" fill="#0a1cff" filter="url(#b1)" opacity="0.75"/>
<ellipse cx="346.00" cy="165.20" rx="1.8" ry="1.8" fill="#f8f000" filter="url(#b1)" opacity="0.9"/>
<ellipse cx="333.50" cy="184.50" rx="8.0" ry="3.8" fill="#c0f020" filter="url(#b1)" opacity="0.9"/>
<ellipse cx="332.00" cy="184.60" rx="6.2" ry="3.2" fill="#f8d000" filter="url(#b1)"/>
<ellipse cx="330.80" cy="184.80" rx="4.4" ry="2.4" fill="#ff3000" filter="url(#b1)"/>
<line x1="291.00" y1="59.00" x2="291.00" y2="102.40" stroke="#6a6a6a" stroke-width="0.6"/>
<line x1="268.40" y1="83.50" x2="312.00" y2="83.50" stroke="#6a6a6a" stroke-width="0.6"/>
<line x1="290.80" y1="105.60" x2="290.80" y2="149.00" stroke="#6a6a6a" stroke-width="0.6"/>
<line x1="268.40" y1="130.00" x2="312.00" y2="130.00" stroke="#6a6a6a" stroke-width="0.6"/>
<line x1="290.50" y1="152.40" x2="290.50" y2="195.80" stroke="#6a6a6a" stroke-width="0.6"/>
<line x1="268.40" y1="176.60" x2="312.00" y2="176.60" stroke="#6a6a6a" stroke-width="0.6"/>
<line x1="337.40" y1="105.60" x2="337.40" y2="149.00" stroke="#6a6a6a" stroke-width="0.6"/>
<line x1="315.20" y1="130.00" x2="358.80" y2="130.00" stroke="#6a6a6a" stroke-width="0.6"/>
<line x1="337.40" y1="152.40" x2="337.40" y2="195.80" stroke="#6a6a6a" stroke-width="0.6"/>
<line x1="315.20" y1="177.20" x2="358.80" y2="177.20" stroke="#6a6a6a" stroke-width="0.6"/>
<rect x="315.00" y="58.90" width="21.50" height="25.10" fill="none" stroke="#e8622a" stroke-width="1.0"/>
<rect x="337.00" y="58.90" width="22.40" height="25.10" fill="none" stroke="#e6d21e" stroke-width="1.0"/>
<rect x="337.00" y="84.60" width="22.40" height="18.20" fill="none" stroke="#4cc8e4" stroke-width="1.0"/>
<line x1="268.50" y1="101.90" x2="311.90" y2="101.90" stroke="#777" stroke-width="0.7" stroke-dasharray="0.7,1.3"/>
<line x1="268.90" y1="59.10" x2="268.90" y2="102.30" stroke="#888" stroke-width="0.7" stroke-dasharray="0.7,1.6"/>
<line x1="276.88" y1="101.90" x2="281.32" y2="101.90" stroke="#333" stroke-width="1.0"/>
<line x1="268.90" y1="85.12" x2="268.90" y2="87.77" stroke="#333" stroke-width="1.0"/>
<line x1="315.30" y1="101.90" x2="358.70" y2="101.90" stroke="#777" stroke-width="0.7" stroke-dasharray="0.7,1.3"/>
<line x1="315.70" y1="59.10" x2="315.70" y2="102.30" stroke="#888" stroke-width="0.7" stroke-dasharray="0.7,1.6"/>
<line x1="323.68" y1="101.90" x2="328.12" y2="101.90" stroke="#333" stroke-width="1.0"/>
<line x1="315.70" y1="85.12" x2="315.70" y2="87.77" stroke="#333" stroke-width="1.0"/>
<line x1="268.50" y1="148.50" x2="311.90" y2="148.50" stroke="#777" stroke-width="0.7" stroke-dasharray="0.7,1.3"/>
<line x1="268.90" y1="105.70" x2="268.90" y2="148.90" stroke="#888" stroke-width="0.7" stroke-dasharray="0.7,1.6"/>
<line x1="276.88" y1="148.50" x2="281.32" y2="148.50" stroke="#333" stroke-width="1.0"/>
<line x1="268.90" y1="131.72" x2="268.90" y2="134.37" stroke="#333" stroke-width="1.0"/>
<line x1="315.30" y1="148.50" x2="358.70" y2="148.50" stroke="#777" stroke-width="0.7" stroke-dasharray="0.7,1.3"/>
<line x1="315.70" y1="105.70" x2="315.70" y2="148.90" stroke="#888" stroke-width="0.7" stroke-dasharray="0.7,1.6"/>
<line x1="323.68" y1="148.50" x2="328.12" y2="148.50" stroke="#333" stroke-width="1.0"/>
<line x1="315.70" y1="131.72" x2="315.70" y2="134.37" stroke="#333" stroke-width="1.0"/>
<line x1="268.50" y1="195.30" x2="311.90" y2="195.30" stroke="#777" stroke-width="0.7" stroke-dasharray="0.7,1.3"/>
<line x1="268.90" y1="152.50" x2="268.90" y2="195.70" stroke="#888" stroke-width="0.7" stroke-dasharray="0.7,1.6"/>
<line x1="276.88" y1="195.30" x2="281.32" y2="195.30" stroke="#333" stroke-width="1.0"/>
<line x1="268.90" y1="178.52" x2="268.90" y2="181.17" stroke="#333" stroke-width="1.0"/>
<line x1="315.30" y1="195.30" x2="358.70" y2="195.30" stroke="#777" stroke-width="0.7" stroke-dasharray="0.7,1.3"/>
<line x1="315.70" y1="152.50" x2="315.70" y2="195.70" stroke="#888" stroke-width="0.7" stroke-dasharray="0.7,1.6"/>
<line x1="323.68" y1="195.30" x2="328.12" y2="195.30" stroke="#333" stroke-width="1.0"/>
<line x1="315.70" y1="178.52" x2="315.70" y2="181.17" stroke="#333" stroke-width="1.0"/>
<text x="269.00" y="65.90" font-size="9.0" stroke="#2a2aff" stroke-width="0.3" fill="#2a2aff">18</text>
<text x="311.80" y="65.90" font-size="9.0" stroke="#2a2aff" stroke-width="0.3" text-anchor="end" fill="#2a2aff">3</text>
<text x="269.00" y="101.90" font-size="9.0" stroke="#2a2aff" stroke-width="0.3" fill="#2a2aff">74</text>
<text x="311.80" y="101.90" font-size="9.0" stroke="#2a2aff" stroke-width="0.3" text-anchor="end" fill="#2a2aff">5</text>
<text x="315.80" y="65.90" font-size="9.0" stroke="#2a2aff" stroke-width="0.3" fill="#2a2aff">9</text>
<text x="358.60" y="65.90" font-size="9.0" stroke="#2a2aff" stroke-width="0.3" text-anchor="end" fill="#2a2aff">18</text>
<text x="315.80" y="101.90" font-size="9.0" stroke="#2a2aff" stroke-width="0.3" fill="#2a2aff">43</text>
<text x="358.60" y="101.90" font-size="9.0" stroke="#2a2aff" stroke-width="0.3" text-anchor="end" fill="#2a2aff">30</text>
<text x="269.00" y="112.50" font-size="9.0" stroke="#2a2aff" stroke-width="0.3" fill="#2a2aff">6</text>
<text x="311.80" y="112.50" font-size="9.0" stroke="#2a2aff" stroke-width="0.3" text-anchor="end" fill="#2a2aff">1</text>
<text x="269.00" y="148.50" font-size="9.0" stroke="#2a2aff" stroke-width="0.3" fill="#2a2aff">92</text>
<text x="311.80" y="148.50" font-size="9.0" stroke="#2a2aff" stroke-width="0.3" text-anchor="end" fill="#2a2aff">2</text>
<text x="315.80" y="112.50" font-size="9.0" stroke="#2a2aff" stroke-width="0.3" fill="#2a2aff">14</text>
<text x="358.60" y="112.50" font-size="9.0" stroke="#2a2aff" stroke-width="0.3" text-anchor="end" fill="#2a2aff">12</text>
<text x="315.80" y="148.50" font-size="9.0" stroke="#2a2aff" stroke-width="0.3" fill="#2a2aff">58</text>
<text x="358.60" y="148.50" font-size="9.0" stroke="#2a2aff" stroke-width="0.3" text-anchor="end" fill="#2a2aff">16</text>
<text x="269.00" y="159.30" font-size="9.0" stroke="#2a2aff" stroke-width="0.3" fill="#2a2aff">36</text>
<text x="311.80" y="159.30" font-size="9.0" stroke="#2a2aff" stroke-width="0.3" text-anchor="end" fill="#2a2aff">16</text>
<text x="269.00" y="195.30" font-size="9.0" stroke="#2a2aff" stroke-width="0.3" fill="#2a2aff">43</text>
<text x="311.80" y="195.30" font-size="9.0" stroke="#2a2aff" stroke-width="0.3" text-anchor="end" fill="#2a2aff">5</text>
<text x="315.80" y="159.30" font-size="9.0" stroke="#2a2aff" stroke-width="0.3" fill="#2a2aff">17</text>
<text x="358.60" y="159.30" font-size="9.0" stroke="#2a2aff" stroke-width="0.3" text-anchor="end" fill="#2a2aff">32</text>
<text x="315.80" y="195.30" font-size="9.0" stroke="#2a2aff" stroke-width="0.3" fill="#2a2aff">35</text>
<text x="358.60" y="195.30" font-size="9.0" stroke="#2a2aff" stroke-width="0.3" text-anchor="end" fill="#2a2aff">16</text>
<text x="362.80" y="85.60" font-size="8.8" stroke="#231f20" stroke-width="0.22" fill="#231f20" textLength="15.2" lengthAdjust="spacingAndGlyphs">Ctrl.</text>
<text x="362.60" y="133.20" font-size="8.8" stroke="#231f20" stroke-width="0.22" fill="#231f20" textLength="10.3" lengthAdjust="spacingAndGlyphs">DT</text>
<text x="362.60" y="175.10" font-size="8.8" stroke="#231f20" stroke-width="0.22" fill="#231f20" textLength="18.4" lengthAdjust="spacingAndGlyphs">IL-2 /</text>
<text x="362.60" y="184.90" font-size="8.8" stroke="#231f20" stroke-width="0.22" fill="#231f20" textLength="24.6" lengthAdjust="spacingAndGlyphs">JES6-1</text>
<text x="262.30" y="127.80" font-size="9.6" stroke="#231f20" stroke-width="0.22" text-anchor="middle" fill="#231f20" textLength="22" lengthAdjust="spacingAndGlyphs" transform="rotate(-90 262.30 127.80)">CD11c</text>
<text x="301.90" y="209.10" font-size="8.8" stroke="#231f20" stroke-width="0.22" fill="#231f20" textLength="23.3" lengthAdjust="spacingAndGlyphs">MHC-II</text>
<text x="391.00" y="54.80" font-size="10.0" stroke="#231f20" stroke-width="0.22" fill="#231f20" textLength="43.6" lengthAdjust="spacingAndGlyphs">Thrombus</text>
<text x="455.40" y="54.80" font-size="10.0" stroke="#231f20" stroke-width="0.22" fill="#231f20" textLength="39.4" lengthAdjust="spacingAndGlyphs">Vein Wall</text>
<circle cx="413.3" cy="84.4" r="17.6" fill="#eff0eb"/>
<path d="M413.30,84.40 L422.10,69.16 A17.6,17.6 0 0 1 430.83,85.93 Z" fill="#d24f1c"/>
<path d="M413.30,84.40 L430.83,85.93 A17.6,17.6 0 0 1 429.89,90.28 Z" fill="#e2dc1c"/>
<path d="M413.30,84.40 L429.89,90.28 A17.6,17.6 0 0 1 426.58,95.95 Z" fill="#3fa6c2"/>
<text x="429.80" y="77.40" font-size="7.8" stroke="#3a3a3a" stroke-width="0.05" fill="#3a3a3a" textLength="20.9" lengthAdjust="spacingAndGlyphs">18 &#916;0.5</text>
<text x="432.00" y="91.30" font-size="7.8" stroke="#3a3a3a" stroke-width="0.05" fill="#3a3a3a" textLength="18.7" lengthAdjust="spacingAndGlyphs">4 &#916;0.6</text>
<text x="429.00" y="98.00" font-size="7.8" stroke="#3a3a3a" stroke-width="0.05" fill="#3a3a3a" textLength="19.0" lengthAdjust="spacingAndGlyphs">6 &#916;0.5</text>
<text x="395.70" y="86.40" font-size="7.8" stroke="#3a3a3a" stroke-width="0.05" fill="#3a3a3a" textLength="16.9" lengthAdjust="spacingAndGlyphs">65 &#916;6</text>
<circle cx="475.2" cy="84.4" r="17.6" fill="#eff0eb"/>
<path d="M475.20,84.40 L470.14,67.54 A17.6,17.6 0 0 1 480.17,67.52 Z" fill="#d24f1c"/>
<path d="M475.20,84.40 L480.17,67.52 A17.6,17.6 0 0 1 492.60,81.74 Z" fill="#e2dc1c"/>
<path d="M475.20,84.40 L492.60,81.74 A17.6,17.6 0 0 1 472.20,101.74 Z" fill="#3fa6c2"/>
<text x="473.30" y="65.80" font-size="7.8" stroke="#3a3a3a" stroke-width="0.05" fill="#3a3a3a" textLength="13.4" lengthAdjust="spacingAndGlyphs">8 &#916;1</text>
<text x="488.50" y="74.20" font-size="7.8" stroke="#3a3a3a" stroke-width="0.05" fill="#3a3a3a" textLength="20.5" lengthAdjust="spacingAndGlyphs">19 &#916;1.6</text>
<text x="487.60" y="102.50" font-size="7.8" stroke="#3a3a3a" stroke-width="0.05" fill="#3a3a3a" textLength="21.4" lengthAdjust="spacingAndGlyphs">36 &#916;3.5</text>
<text x="457.00" y="87.70" font-size="7.8" stroke="#3a3a3a" stroke-width="0.05" fill="#3a3a3a" textLength="16.6" lengthAdjust="spacingAndGlyphs">45 &#916;4</text>
<circle cx="413.5" cy="128.6" r="17.6" fill="#eff0eb"/>
<path d="M413.50,128.60 L430.24,123.16 A17.6,17.6 0 0 1 431.07,129.71 Z" fill="#d24f1c"/>
<path d="M413.50,128.60 L431.07,129.71 A17.6,17.6 0 0 1 430.95,130.93 Z" fill="#e2dc1c"/>
<path d="M413.50,128.60 L430.95,130.93 A17.6,17.6 0 0 1 430.55,132.98 Z" fill="#3fa6c2"/>
<text x="430.80" y="126.70" font-size="7.8" stroke="#3a3a3a" stroke-width="0.05" fill="#3a3a3a" textLength="18.2" lengthAdjust="spacingAndGlyphs">6 &#916;0.6</text>
<text x="431.40" y="132.60" font-size="7.8" stroke="#3a3a3a" stroke-width="0.05" fill="#3a3a3a" textLength="17.6" lengthAdjust="spacingAndGlyphs">1 &#916;0.4</text>
<text x="430.80" y="138.70" font-size="7.8" stroke="#3a3a3a" stroke-width="0.05" fill="#3a3a3a" textLength="18.2" lengthAdjust="spacingAndGlyphs">2 &#916;0.5</text>
<text x="395.80" y="132.00" font-size="7.8" stroke="#3a3a3a" stroke-width="0.05" fill="#3a3a3a" textLength="17.5" lengthAdjust="spacingAndGlyphs">90 &#916;5</text>
<circle cx="475.3" cy="128.9" r="17.6" fill="#eff0eb"/>
<path d="M475.30,128.90 L478.66,111.62 A17.6,17.6 0 0 1 490.90,120.75 Z" fill="#d24f1c"/>
<path d="M475.30,128.90 L490.90,120.75 A17.6,17.6 0 0 1 492.27,133.57 Z" fill="#e2dc1c"/>
<path d="M475.30,128.90 L492.27,133.57 A17.6,17.6 0 0 1 479.91,145.88 Z" fill="#3fa6c2"/>
<text x="485.70" y="114.10" font-size="7.8" stroke="#3a3a3a" stroke-width="0.05" fill="#3a3a3a" textLength="20.8" lengthAdjust="spacingAndGlyphs">14 &#916;1.7</text>
<text x="493.70" y="129.60" font-size="7.8" stroke="#3a3a3a" stroke-width="0.05" fill="#3a3a3a" textLength="15.5" lengthAdjust="spacingAndGlyphs">15 &#916;4</text>
<text x="488.40" y="146.00" font-size="7.8" stroke="#3a3a3a" stroke-width="0.05" fill="#3a3a3a" textLength="21.5" lengthAdjust="spacingAndGlyphs">14 &#916;1.6</text>
<text x="457.00" y="131.40" font-size="7.8" stroke="#3a3a3a" stroke-width="0.05" fill="#3a3a3a" textLength="17.2" lengthAdjust="spacingAndGlyphs">60 &#916;5</text>
<circle cx="413.5" cy="176.6" r="17.6" fill="#eff0eb"/>
<path d="M413.50,176.60 L399.00,166.63 A17.6,17.6 0 0 1 431.10,176.60 Z" fill="#d24f1c"/>
<path d="M413.50,176.60 L431.10,176.60 A17.6,17.6 0 0 1 424.67,190.20 Z" fill="#e2dc1c"/>
<path d="M413.50,176.60 L424.67,190.20 A17.6,17.6 0 0 1 422.70,191.61 Z" fill="#3fa6c2"/>
<text x="421.30" y="160.10" font-size="7.8" stroke="#3a3a3a" stroke-width="0.05" fill="#3a3a3a" textLength="16.5" lengthAdjust="spacingAndGlyphs">38 &#916;8</text>
<text x="430.80" y="187.40" font-size="7.8" stroke="#3a3a3a" stroke-width="0.05" fill="#3a3a3a" textLength="16.4" lengthAdjust="spacingAndGlyphs">13 &#916;3</text>
<text x="424.30" y="196.20" font-size="7.8" stroke="#3a3a3a" stroke-width="0.05" fill="#3a3a3a" textLength="23.7" lengthAdjust="spacingAndGlyphs">2.5 &#916;0.9</text>
<text x="396.80" y="182.40" font-size="7.8" stroke="#3a3a3a" stroke-width="0.05" fill="#3a3a3a" textLength="16.7" lengthAdjust="spacingAndGlyphs">45 &#916;3</text>
<circle cx="475.3" cy="176.6" r="17.6" fill="#eff0eb"/>
<path d="M475.30,176.60 L467.12,161.02 A17.6,17.6 0 0 1 484.44,161.56 Z" fill="#d24f1c"/>
<path d="M475.30,176.60 L484.44,161.56 A17.6,17.6 0 0 1 484.44,191.64 Z" fill="#e2dc1c"/>
<path d="M475.30,176.60 L484.44,191.64 A17.6,17.6 0 0 1 467.50,192.38 Z" fill="#3fa6c2"/>
<text x="473.10" y="158.20" font-size="7.8" stroke="#3a3a3a" stroke-width="0.05" fill="#3a3a3a" textLength="16.6" lengthAdjust="spacingAndGlyphs">18 &#916;3</text>
<text x="494.40" y="179.30" font-size="7.8" stroke="#3a3a3a" stroke-width="0.05" fill="#3a3a3a" textLength="16.4" lengthAdjust="spacingAndGlyphs">33 &#916;2</text>
<text x="458.00" y="179.30" font-size="7.8" stroke="#3a3a3a" stroke-width="0.05" fill="#3a3a3a" textLength="16.9" lengthAdjust="spacingAndGlyphs">35 &#916;4</text>
<text x="473.00" y="200.20" font-size="7.8" stroke="#3a3a3a" stroke-width="0.05" fill="#3a3a3a" textLength="16.3" lengthAdjust="spacingAndGlyphs">16 &#916;2</text>
<text x="7.60" y="228.30" font-size="11.0" stroke="#000" stroke-width="0.1" font-weight="bold" fill="#000">B</text>
<text x="27.20" y="257.10" font-size="9.4" fill="#231f20" stroke="#231f20" stroke-width="0.22" font-style="italic" textLength="94.5" lengthAdjust="spacingAndGlyphs">viable CD45<tspan font-size="6.39" dy="-3.2">+</tspan><tspan dy="3.2"> singlets</tspan></text>
<text x="30.50" y="270.60" font-size="9.6" stroke="#231f20" stroke-width="0.22" fill="#231f20" textLength="86.5" lengthAdjust="spacingAndGlyphs">Thrombus Vein Wall</text>
<rect x="29.80" y="274.20" width="44.20" height="44.00" fill="#fff" stroke="#cfcfcf" stroke-width="0.8"/>
<rect x="75.20" y="274.20" width="44.20" height="44.00" fill="#fff" stroke="#cfcfcf" stroke-width="0.8"/>
<rect x="29.80" y="318.90" width="44.20" height="44.00" fill="#fff" stroke="#cfcfcf" stroke-width="0.8"/>
<rect x="75.20" y="318.90" width="44.20" height="44.00" fill="#fff" stroke="#cfcfcf" stroke-width="0.8"/>
<rect x="29.80" y="363.80" width="44.20" height="44.00" fill="#fff" stroke="#cfcfcf" stroke-width="0.8"/>
<rect x="75.20" y="363.80" width="44.20" height="44.00" fill="#fff" stroke="#cfcfcf" stroke-width="0.8"/>
<ellipse cx="60.50" cy="296.00" rx="5" ry="10" fill="#000" filter="url(#speck)" opacity="0.9"/>
<ellipse cx="53.00" cy="287.00" rx="7" ry="3" fill="#000" filter="url(#speck)" opacity="0.6"/>
<path d="M32.27,291.25 C33.02,289.95 35.53,288.55 37.30,287.90 C39.08,287.24 40.94,286.87 42.90,287.34 C44.85,287.80 47.56,289.76 49.05,290.69 C50.54,291.63 50.91,292.28 51.85,292.93 C52.78,293.58 53.71,293.96 54.64,294.61 C55.57,295.26 56.75,295.82 57.44,296.85 C58.13,297.87 58.41,299.55 58.78,300.76 C59.15,301.97 59.71,302.81 59.68,304.12 C59.64,305.42 59.30,307.60 58.56,308.59 C57.81,309.58 56.32,310.04 55.20,310.04 C54.08,310.04 53.15,308.74 51.85,308.59 C50.54,308.44 48.86,309.02 47.37,309.15 C45.88,309.28 44.20,309.56 42.90,309.37 C41.59,309.19 40.29,309.00 39.54,308.03 C38.80,307.06 39.17,305.01 38.42,303.56 C37.68,302.10 36.00,300.61 35.07,299.31 C34.13,298.00 33.30,297.07 32.83,295.73 C32.36,294.38 31.52,292.56 32.27,291.25 Z" fill="#000" stroke="#000" stroke-width="5.00" filter="url(#speck)" opacity="0.68"/>
<path d="M32.27,291.25 C33.02,289.95 35.53,288.55 37.30,287.90 C39.08,287.24 40.94,286.87 42.90,287.34 C44.85,287.80 47.56,289.76 49.05,290.69 C50.54,291.63 50.91,292.28 51.85,292.93 C52.78,293.58 53.71,293.96 54.64,294.61 C55.57,295.26 56.75,295.82 57.44,296.85 C58.13,297.87 58.41,299.55 58.78,300.76 C59.15,301.97 59.71,302.81 59.68,304.12 C59.64,305.42 59.30,307.60 58.56,308.59 C57.81,309.58 56.32,310.04 55.20,310.04 C54.08,310.04 53.15,308.74 51.85,308.59 C50.54,308.44 48.86,309.02 47.37,309.15 C45.88,309.28 44.20,309.56 42.90,309.37 C41.59,309.19 40.29,309.00 39.54,308.03 C38.80,307.06 39.17,305.01 38.42,303.56 C37.68,302.10 36.00,300.61 35.07,299.31 C34.13,298.00 33.30,297.07 32.83,295.73 C32.36,294.38 31.52,292.56 32.27,291.25 Z" fill="#000" stroke="#000" stroke-width="2.00" filter="url(#b1)" opacity="0.77"/>
<path d="M32.27,291.25 C33.02,289.95 35.53,288.55 37.30,287.90 C39.08,287.24 40.94,286.87 42.90,287.34 C44.85,287.80 47.56,289.76 49.05,290.69 C50.54,291.63 50.91,292.28 51.85,292.93 C52.78,293.58 53.71,293.96 54.64,294.61 C55.57,295.26 56.75,295.82 57.44,296.85 C58.13,297.87 58.41,299.55 58.78,300.76 C59.15,301.97 59.71,302.81 59.68,304.12 C59.64,305.42 59.30,307.60 58.56,308.59 C57.81,309.58 56.32,310.04 55.20,310.04 C54.08,310.04 53.15,308.74 51.85,308.59 C50.54,308.44 48.86,309.02 47.37,309.15 C45.88,309.28 44.20,309.56 42.90,309.37 C41.59,309.19 40.29,309.00 39.54,308.03 C38.80,307.06 39.17,305.01 38.42,303.56 C37.68,302.10 36.00,300.61 35.07,299.31 C34.13,298.00 33.30,297.07 32.83,295.73 C32.36,294.38 31.52,292.56 32.27,291.25 Z" fill="#0a3cff" filter="url(#b1)"/>
<clipPath id="bc1"><path d="M32.27,291.25 C33.02,289.95 35.53,288.55 37.30,287.90 C39.08,287.24 40.94,286.87 42.90,287.34 C44.85,287.80 47.56,289.76 49.05,290.69 C50.54,291.63 50.91,292.28 51.85,292.93 C52.78,293.58 53.71,293.96 54.64,294.61 C55.57,295.26 56.75,295.82 57.44,296.85 C58.13,297.87 58.41,299.55 58.78,300.76 C59.15,301.97 59.71,302.81 59.68,304.12 C59.64,305.42 59.30,307.60 58.56,308.59 C57.81,309.58 56.32,310.04 55.20,310.04 C54.08,310.04 53.15,308.74 51.85,308.59 C50.54,308.44 48.86,309.02 47.37,309.15 C45.88,309.28 44.20,309.56 42.90,309.37 C41.59,309.19 40.29,309.00 39.54,308.03 C38.80,307.06 39.17,305.01 38.42,303.56 C37.68,302.10 36.00,300.61 35.07,299.31 C34.13,298.00 33.30,297.07 32.83,295.73 C32.36,294.38 31.52,292.56 32.27,291.25 Z"/></clipPath><g clip-path="url(#bc1)">
<ellipse cx="49.00" cy="300.00" rx="8" ry="7" fill="url(#lblue)" opacity="0.7"/>
<ellipse cx="40.70" cy="296.30" rx="12.00" ry="12.00" fill="url(#lblue)" opacity="0.8"/>
<ellipse cx="40.70" cy="296.30" rx="7.50" ry="7.50" fill="url(#hot)"/>
</g>
<ellipse cx="55.76" cy="288.46" rx="5.0" ry="2.5" fill="#000" filter="url(#b1)" opacity="0.9"/>
<ellipse cx="55.76" cy="288.46" rx="4.2" ry="1.8" fill="#0a3cff" filter="url(#b1)"/>
<ellipse cx="106.50" cy="296.00" rx="5" ry="11" fill="#000" filter="url(#speck)" opacity="0.9"/>
<ellipse cx="95.00" cy="287.50" rx="8" ry="3" fill="#000" filter="url(#speck)" opacity="0.6"/>
<path d="M77.03,290.13 C78.00,289.02 80.30,287.34 82.07,286.78 C83.84,286.22 85.80,286.41 87.66,286.78 C89.52,287.15 91.57,288.74 93.25,289.02 C94.93,289.30 96.42,288.92 97.73,288.46 C99.03,287.99 99.78,286.69 101.08,286.22 C102.39,285.75 104.59,285.38 105.56,285.66 C106.53,285.94 107.18,286.93 106.90,287.90 C106.62,288.87 104.33,290.13 103.88,291.48 C103.43,292.82 103.99,294.31 104.21,295.95 C104.44,297.59 104.96,299.64 105.22,301.32 C105.48,303.00 105.91,304.60 105.78,306.02 C105.65,307.43 105.41,309.08 104.44,309.82 C103.47,310.57 101.23,310.94 99.96,310.49 C98.70,310.04 97.76,307.51 96.83,307.14 C95.90,306.76 95.34,307.88 94.37,308.26 C93.40,308.63 92.69,309.00 91.02,309.37 C89.34,309.75 85.65,310.90 84.30,310.49 C82.96,310.08 83.43,308.22 82.96,306.91 C82.50,305.61 82.40,304.30 81.51,302.66 C80.61,301.02 78.47,298.60 77.59,297.07 C76.72,295.54 76.34,294.65 76.25,293.49 C76.16,292.33 76.06,291.25 77.03,290.13 Z" fill="#000" stroke="#000" stroke-width="5.00" filter="url(#speck)" opacity="0.68"/>
<path d="M77.03,290.13 C78.00,289.02 80.30,287.34 82.07,286.78 C83.84,286.22 85.80,286.41 87.66,286.78 C89.52,287.15 91.57,288.74 93.25,289.02 C94.93,289.30 96.42,288.92 97.73,288.46 C99.03,287.99 99.78,286.69 101.08,286.22 C102.39,285.75 104.59,285.38 105.56,285.66 C106.53,285.94 107.18,286.93 106.90,287.90 C106.62,288.87 104.33,290.13 103.88,291.48 C103.43,292.82 103.99,294.31 104.21,295.95 C104.44,297.59 104.96,299.64 105.22,301.32 C105.48,303.00 105.91,304.60 105.78,306.02 C105.65,307.43 105.41,309.08 104.44,309.82 C103.47,310.57 101.23,310.94 99.96,310.49 C98.70,310.04 97.76,307.51 96.83,307.14 C95.90,306.76 95.34,307.88 94.37,308.26 C93.40,308.63 92.69,309.00 91.02,309.37 C89.34,309.75 85.65,310.90 84.30,310.49 C82.96,310.08 83.43,308.22 82.96,306.91 C82.50,305.61 82.40,304.30 81.51,302.66 C80.61,301.02 78.47,298.60 77.59,297.07 C76.72,295.54 76.34,294.65 76.25,293.49 C76.16,292.33 76.06,291.25 77.03,290.13 Z" fill="#000" stroke="#000" stroke-width="2.00" filter="url(#b1)" opacity="0.77"/>
<path d="M77.03,290.13 C78.00,289.02 80.30,287.34 82.07,286.78 C83.84,286.22 85.80,286.41 87.66,286.78 C89.52,287.15 91.57,288.74 93.25,289.02 C94.93,289.30 96.42,288.92 97.73,288.46 C99.03,287.99 99.78,286.69 101.08,286.22 C102.39,285.75 104.59,285.38 105.56,285.66 C106.53,285.94 107.18,286.93 106.90,287.90 C106.62,288.87 104.33,290.13 103.88,291.48 C103.43,292.82 103.99,294.31 104.21,295.95 C104.44,297.59 104.96,299.64 105.22,301.32 C105.48,303.00 105.91,304.60 105.78,306.02 C105.65,307.43 105.41,309.08 104.44,309.82 C103.47,310.57 101.23,310.94 99.96,310.49 C98.70,310.04 97.76,307.51 96.83,307.14 C95.90,306.76 95.34,307.88 94.37,308.26 C93.40,308.63 92.69,309.00 91.02,309.37 C89.34,309.75 85.65,310.90 84.30,310.49 C82.96,310.08 83.43,308.22 82.96,306.91 C82.50,305.61 82.40,304.30 81.51,302.66 C80.61,301.02 78.47,298.60 77.59,297.07 C76.72,295.54 76.34,294.65 76.25,293.49 C76.16,292.33 76.06,291.25 77.03,290.13 Z" fill="#0a3cff" filter="url(#b1)"/>
<clipPath id="bc2"><path d="M77.03,290.13 C78.00,289.02 80.30,287.34 82.07,286.78 C83.84,286.22 85.80,286.41 87.66,286.78 C89.52,287.15 91.57,288.74 93.25,289.02 C94.93,289.30 96.42,288.92 97.73,288.46 C99.03,287.99 99.78,286.69 101.08,286.22 C102.39,285.75 104.59,285.38 105.56,285.66 C106.53,285.94 107.18,286.93 106.90,287.90 C106.62,288.87 104.33,290.13 103.88,291.48 C103.43,292.82 103.99,294.31 104.21,295.95 C104.44,297.59 104.96,299.64 105.22,301.32 C105.48,303.00 105.91,304.60 105.78,306.02 C105.65,307.43 105.41,309.08 104.44,309.82 C103.47,310.57 101.23,310.94 99.96,310.49 C98.70,310.04 97.76,307.51 96.83,307.14 C95.90,306.76 95.34,307.88 94.37,308.26 C93.40,308.63 92.69,309.00 91.02,309.37 C89.34,309.75 85.65,310.90 84.30,310.49 C82.96,310.08 83.43,308.22 82.96,306.91 C82.50,305.61 82.40,304.30 81.51,302.66 C80.61,301.02 78.47,298.60 77.59,297.07 C76.72,295.54 76.34,294.65 76.25,293.49 C76.16,292.33 76.06,291.25 77.03,290.13 Z"/></clipPath><g clip-path="url(#bc2)">
<ellipse cx="93.00" cy="300.00" rx="8" ry="7" fill="url(#lblue)" opacity="0.7"/>
<ellipse cx="84.90" cy="295.70" rx="12.00" ry="12.00" fill="url(#lblue)" opacity="0.8"/>
<ellipse cx="84.90" cy="295.70" rx="7.50" ry="7.50" fill="url(#hot)"/>
</g>
<ellipse cx="63.00" cy="343.00" rx="5" ry="12" fill="#000" filter="url(#speck)" opacity="0.9"/>
<ellipse cx="50.00" cy="331.00" rx="11" ry="3" fill="#000" filter="url(#speck)" opacity="0.6"/>
<path d="M45.5,343 L53,342 L58,346 L62,348 L62.5,357.5 L46,358.5 Z" fill="#000" filter="url(#b1)" opacity="0.95"/>
<ellipse cx="61.50" cy="346.00" rx="3.0" ry="9.0" fill="#111" filter="url(#b2)" opacity="0.7"/>
<path d="M31.03,335.02 C31.69,333.52 32.99,332.69 34.95,332.22 C36.91,331.75 40.54,331.75 42.78,332.22 C45.02,332.69 46.32,334.74 48.37,335.02 C50.42,335.30 53.03,334.12 55.08,333.90 C57.13,333.67 59.52,333.95 60.68,333.67 C61.83,333.39 61.27,332.74 62.02,332.22 C62.76,331.70 64.52,330.45 65.15,330.54 C65.78,330.63 66.19,331.88 65.82,332.78 C65.45,333.67 63.55,334.57 62.91,335.91 C62.28,337.25 62.20,339.40 62.02,340.83 C61.83,342.27 62.17,343.16 61.79,344.52 C61.42,345.88 60.15,347.69 59.78,349.00 C59.41,350.30 59.87,351.70 59.56,352.35 C59.24,353.01 58.59,353.04 57.88,352.91 C57.17,352.78 56.05,352.04 55.31,351.57 C54.56,351.10 53.91,350.92 53.40,350.12 C52.90,349.31 53.13,347.45 52.29,346.76 C51.45,346.07 49.21,345.51 48.37,345.98 C47.53,346.44 47.44,348.03 47.25,349.56 C47.07,351.09 48.00,354.12 47.25,355.15 C46.51,356.18 44.12,355.80 42.78,355.71 C41.44,355.62 40.13,355.62 39.20,354.59 C38.27,353.57 38.08,351.05 37.19,349.56 C36.29,348.07 34.86,347.04 33.83,345.64 C32.80,344.24 31.50,342.94 31.03,341.17 C30.57,339.40 30.38,336.51 31.03,335.02 Z" fill="#000" stroke="#000" stroke-width="5.00" filter="url(#speck)" opacity="0.71"/>
<path d="M31.03,335.02 C31.69,333.52 32.99,332.69 34.95,332.22 C36.91,331.75 40.54,331.75 42.78,332.22 C45.02,332.69 46.32,334.74 48.37,335.02 C50.42,335.30 53.03,334.12 55.08,333.90 C57.13,333.67 59.52,333.95 60.68,333.67 C61.83,333.39 61.27,332.74 62.02,332.22 C62.76,331.70 64.52,330.45 65.15,330.54 C65.78,330.63 66.19,331.88 65.82,332.78 C65.45,333.67 63.55,334.57 62.91,335.91 C62.28,337.25 62.20,339.40 62.02,340.83 C61.83,342.27 62.17,343.16 61.79,344.52 C61.42,345.88 60.15,347.69 59.78,349.00 C59.41,350.30 59.87,351.70 59.56,352.35 C59.24,353.01 58.59,353.04 57.88,352.91 C57.17,352.78 56.05,352.04 55.31,351.57 C54.56,351.10 53.91,350.92 53.40,350.12 C52.90,349.31 53.13,347.45 52.29,346.76 C51.45,346.07 49.21,345.51 48.37,345.98 C47.53,346.44 47.44,348.03 47.25,349.56 C47.07,351.09 48.00,354.12 47.25,355.15 C46.51,356.18 44.12,355.80 42.78,355.71 C41.44,355.62 40.13,355.62 39.20,354.59 C38.27,353.57 38.08,351.05 37.19,349.56 C36.29,348.07 34.86,347.04 33.83,345.64 C32.80,344.24 31.50,342.94 31.03,341.17 C30.57,339.40 30.38,336.51 31.03,335.02 Z" fill="#000" stroke="#000" stroke-width="2.60" filter="url(#b1)" opacity="0.81"/>
<path d="M31.03,335.02 C31.69,333.52 32.99,332.69 34.95,332.22 C36.91,331.75 40.54,331.75 42.78,332.22 C45.02,332.69 46.32,334.74 48.37,335.02 C50.42,335.30 53.03,334.12 55.08,333.90 C57.13,333.67 59.52,333.95 60.68,333.67 C61.83,333.39 61.27,332.74 62.02,332.22 C62.76,331.70 64.52,330.45 65.15,330.54 C65.78,330.63 66.19,331.88 65.82,332.78 C65.45,333.67 63.55,334.57 62.91,335.91 C62.28,337.25 62.20,339.40 62.02,340.83 C61.83,342.27 62.17,343.16 61.79,344.52 C61.42,345.88 60.15,347.69 59.78,349.00 C59.41,350.30 59.87,351.70 59.56,352.35 C59.24,353.01 58.59,353.04 57.88,352.91 C57.17,352.78 56.05,352.04 55.31,351.57 C54.56,351.10 53.91,350.92 53.40,350.12 C52.90,349.31 53.13,347.45 52.29,346.76 C51.45,346.07 49.21,345.51 48.37,345.98 C47.53,346.44 47.44,348.03 47.25,349.56 C47.07,351.09 48.00,354.12 47.25,355.15 C46.51,356.18 44.12,355.80 42.78,355.71 C41.44,355.62 40.13,355.62 39.20,354.59 C38.27,353.57 38.08,351.05 37.19,349.56 C36.29,348.07 34.86,347.04 33.83,345.64 C32.80,344.24 31.50,342.94 31.03,341.17 C30.57,339.40 30.38,336.51 31.03,335.02 Z" fill="#0a3cff" filter="url(#b1)"/>
<clipPath id="bc3"><path d="M31.03,335.02 C31.69,333.52 32.99,332.69 34.95,332.22 C36.91,331.75 40.54,331.75 42.78,332.22 C45.02,332.69 46.32,334.74 48.37,335.02 C50.42,335.30 53.03,334.12 55.08,333.90 C57.13,333.67 59.52,333.95 60.68,333.67 C61.83,333.39 61.27,332.74 62.02,332.22 C62.76,331.70 64.52,330.45 65.15,330.54 C65.78,330.63 66.19,331.88 65.82,332.78 C65.45,333.67 63.55,334.57 62.91,335.91 C62.28,337.25 62.20,339.40 62.02,340.83 C61.83,342.27 62.17,343.16 61.79,344.52 C61.42,345.88 60.15,347.69 59.78,349.00 C59.41,350.30 59.87,351.70 59.56,352.35 C59.24,353.01 58.59,353.04 57.88,352.91 C57.17,352.78 56.05,352.04 55.31,351.57 C54.56,351.10 53.91,350.92 53.40,350.12 C52.90,349.31 53.13,347.45 52.29,346.76 C51.45,346.07 49.21,345.51 48.37,345.98 C47.53,346.44 47.44,348.03 47.25,349.56 C47.07,351.09 48.00,354.12 47.25,355.15 C46.51,356.18 44.12,355.80 42.78,355.71 C41.44,355.62 40.13,355.62 39.20,354.59 C38.27,353.57 38.08,351.05 37.19,349.56 C36.29,348.07 34.86,347.04 33.83,345.64 C32.80,344.24 31.50,342.94 31.03,341.17 C30.57,339.40 30.38,336.51 31.03,335.02 Z"/></clipPath><g clip-path="url(#bc3)">
<ellipse cx="50.00" cy="338.00" rx="11" ry="6" fill="url(#lblue)" opacity="0.8"/>
<ellipse cx="38.30" cy="339.50" rx="12.48" ry="12.48" fill="url(#lblue)" opacity="0.8"/>
<ellipse cx="38.30" cy="339.50" rx="7.80" ry="7.80" fill="url(#hot)"/>
</g>
<ellipse cx="108.00" cy="342.00" rx="5" ry="12" fill="#000" filter="url(#speck)" opacity="0.9"/>
<ellipse cx="95.00" cy="331.00" rx="11" ry="3" fill="#000" filter="url(#speck)" opacity="0.6"/>
<path d="M90.5,343 L98,342 L103,346 L107,348 L107.5,357.5 L91,358.5 Z" fill="#000" filter="url(#b1)" opacity="0.95"/>
<ellipse cx="107.50" cy="344.00" rx="2.5" ry="9.0" fill="#111" filter="url(#b2)" opacity="0.6"/>
<path d="M76.47,333.90 C77.22,332.59 78.90,332.03 80.95,331.66 C83.00,331.29 86.54,331.29 88.78,331.66 C91.02,332.03 92.51,333.71 94.37,333.90 C96.24,334.08 98.10,333.15 99.96,332.78 C101.83,332.41 104.40,331.47 105.56,331.66 C106.71,331.85 106.90,332.78 106.90,333.90 C106.90,335.02 105.78,336.88 105.56,338.37 C105.33,339.86 105.71,341.50 105.56,342.85 C105.41,344.19 104.81,345.12 104.66,346.43 C104.51,347.73 104.74,349.31 104.66,350.68 C104.59,352.04 104.77,353.84 104.21,354.59 C103.66,355.34 102.29,355.34 101.31,355.15 C100.32,354.96 98.85,354.40 98.29,353.47 C97.73,352.54 98.51,350.68 97.95,349.56 C97.39,348.44 96.09,347.23 94.93,346.76 C93.77,346.29 91.67,345.92 91.02,346.76 C90.36,347.60 91.20,350.36 91.02,351.79 C90.83,353.23 90.83,354.67 89.90,355.37 C88.96,356.08 86.73,356.31 85.42,356.04 C84.12,355.78 83.00,354.89 82.07,353.81 C81.13,352.73 80.48,350.97 79.83,349.56 C79.18,348.14 78.71,346.98 78.15,345.31 C77.59,343.63 76.75,341.39 76.47,339.49 C76.19,337.59 75.73,335.20 76.47,333.90 Z" fill="#000" stroke="#000" stroke-width="5.00" filter="url(#speck)" opacity="0.71"/>
<path d="M76.47,333.90 C77.22,332.59 78.90,332.03 80.95,331.66 C83.00,331.29 86.54,331.29 88.78,331.66 C91.02,332.03 92.51,333.71 94.37,333.90 C96.24,334.08 98.10,333.15 99.96,332.78 C101.83,332.41 104.40,331.47 105.56,331.66 C106.71,331.85 106.90,332.78 106.90,333.90 C106.90,335.02 105.78,336.88 105.56,338.37 C105.33,339.86 105.71,341.50 105.56,342.85 C105.41,344.19 104.81,345.12 104.66,346.43 C104.51,347.73 104.74,349.31 104.66,350.68 C104.59,352.04 104.77,353.84 104.21,354.59 C103.66,355.34 102.29,355.34 101.31,355.15 C100.32,354.96 98.85,354.40 98.29,353.47 C97.73,352.54 98.51,350.68 97.95,349.56 C97.39,348.44 96.09,347.23 94.93,346.76 C93.77,346.29 91.67,345.92 91.02,346.76 C90.36,347.60 91.20,350.36 91.02,351.79 C90.83,353.23 90.83,354.67 89.90,355.37 C88.96,356.08 86.73,356.31 85.42,356.04 C84.12,355.78 83.00,354.89 82.07,353.81 C81.13,352.73 80.48,350.97 79.83,349.56 C79.18,348.14 78.71,346.98 78.15,345.31 C77.59,343.63 76.75,341.39 76.47,339.49 C76.19,337.59 75.73,335.20 76.47,333.90 Z" fill="#000" stroke="#000" stroke-width="2.60" filter="url(#b1)" opacity="0.81"/>
<path d="M76.47,333.90 C77.22,332.59 78.90,332.03 80.95,331.66 C83.00,331.29 86.54,331.29 88.78,331.66 C91.02,332.03 92.51,333.71 94.37,333.90 C96.24,334.08 98.10,333.15 99.96,332.78 C101.83,332.41 104.40,331.47 105.56,331.66 C106.71,331.85 106.90,332.78 106.90,333.90 C106.90,335.02 105.78,336.88 105.56,338.37 C105.33,339.86 105.71,341.50 105.56,342.85 C105.41,344.19 104.81,345.12 104.66,346.43 C104.51,347.73 104.74,349.31 104.66,350.68 C104.59,352.04 104.77,353.84 104.21,354.59 C103.66,355.34 102.29,355.34 101.31,355.15 C100.32,354.96 98.85,354.40 98.29,353.47 C97.73,352.54 98.51,350.68 97.95,349.56 C97.39,348.44 96.09,347.23 94.93,346.76 C93.77,346.29 91.67,345.92 91.02,346.76 C90.36,347.60 91.20,350.36 91.02,351.79 C90.83,353.23 90.83,354.67 89.90,355.37 C88.96,356.08 86.73,356.31 85.42,356.04 C84.12,355.78 83.00,354.89 82.07,353.81 C81.13,352.73 80.48,350.97 79.83,349.56 C79.18,348.14 78.71,346.98 78.15,345.31 C77.59,343.63 76.75,341.39 76.47,339.49 C76.19,337.59 75.73,335.20 76.47,333.90 Z" fill="#0a3cff" filter="url(#b1)"/>
<clipPath id="bc4"><path d="M76.47,333.90 C77.22,332.59 78.90,332.03 80.95,331.66 C83.00,331.29 86.54,331.29 88.78,331.66 C91.02,332.03 92.51,333.71 94.37,333.90 C96.24,334.08 98.10,333.15 99.96,332.78 C101.83,332.41 104.40,331.47 105.56,331.66 C106.71,331.85 106.90,332.78 106.90,333.90 C106.90,335.02 105.78,336.88 105.56,338.37 C105.33,339.86 105.71,341.50 105.56,342.85 C105.41,344.19 104.81,345.12 104.66,346.43 C104.51,347.73 104.74,349.31 104.66,350.68 C104.59,352.04 104.77,353.84 104.21,354.59 C103.66,355.34 102.29,355.34 101.31,355.15 C100.32,354.96 98.85,354.40 98.29,353.47 C97.73,352.54 98.51,350.68 97.95,349.56 C97.39,348.44 96.09,347.23 94.93,346.76 C93.77,346.29 91.67,345.92 91.02,346.76 C90.36,347.60 91.20,350.36 91.02,351.79 C90.83,353.23 90.83,354.67 89.90,355.37 C88.96,356.08 86.73,356.31 85.42,356.04 C84.12,355.78 83.00,354.89 82.07,353.81 C81.13,352.73 80.48,350.97 79.83,349.56 C79.18,348.14 78.71,346.98 78.15,345.31 C77.59,343.63 76.75,341.39 76.47,339.49 C76.19,337.59 75.73,335.20 76.47,333.90 Z"/></clipPath><g clip-path="url(#bc4)">
<ellipse cx="95.00" cy="338.00" rx="11" ry="6" fill="url(#lblue)" opacity="0.8"/>
<ellipse cx="83.20" cy="338.90" rx="12.48" ry="12.48" fill="url(#lblue)" opacity="0.8"/>
<ellipse cx="83.20" cy="338.90" rx="7.80" ry="7.80" fill="url(#hot)"/>
</g>
<path d="M30.47,378.78 C31.03,377.47 32.15,376.73 33.83,376.54 C35.51,376.35 38.49,377.10 40.54,377.66 C42.59,378.22 44.64,379.90 46.13,379.90 C47.63,379.90 48.37,378.59 49.49,377.66 C50.61,376.73 51.73,375.05 52.85,374.30 C53.96,373.56 55.23,373.00 56.20,373.19 C57.17,373.37 58.18,374.12 58.66,375.42 C59.15,376.73 58.96,378.59 59.11,381.02 C59.26,383.44 59.39,387.17 59.56,389.96 C59.72,392.76 60.30,395.84 60.12,397.79 C59.93,399.75 59.46,401.30 58.44,401.71 C57.41,402.12 55.64,400.44 53.96,400.26 C52.29,400.07 50.24,400.40 48.37,400.59 C46.51,400.78 44.46,401.37 42.78,401.37 C41.10,401.37 39.42,401.56 38.30,400.59 C37.19,399.62 36.81,397.33 36.07,395.56 C35.32,393.79 34.76,391.83 33.83,389.96 C32.90,388.10 31.03,386.24 30.47,384.37 C29.91,382.51 29.91,380.08 30.47,378.78 Z" fill="#0a3cff" filter="url(#b1)"/>
<clipPath id="bc5"><path d="M30.47,378.78 C31.03,377.47 32.15,376.73 33.83,376.54 C35.51,376.35 38.49,377.10 40.54,377.66 C42.59,378.22 44.64,379.90 46.13,379.90 C47.63,379.90 48.37,378.59 49.49,377.66 C50.61,376.73 51.73,375.05 52.85,374.30 C53.96,373.56 55.23,373.00 56.20,373.19 C57.17,373.37 58.18,374.12 58.66,375.42 C59.15,376.73 58.96,378.59 59.11,381.02 C59.26,383.44 59.39,387.17 59.56,389.96 C59.72,392.76 60.30,395.84 60.12,397.79 C59.93,399.75 59.46,401.30 58.44,401.71 C57.41,402.12 55.64,400.44 53.96,400.26 C52.29,400.07 50.24,400.40 48.37,400.59 C46.51,400.78 44.46,401.37 42.78,401.37 C41.10,401.37 39.42,401.56 38.30,400.59 C37.19,399.62 36.81,397.33 36.07,395.56 C35.32,393.79 34.76,391.83 33.83,389.96 C32.90,388.10 31.03,386.24 30.47,384.37 C29.91,382.51 29.91,380.08 30.47,378.78 Z"/></clipPath><g clip-path="url(#bc5)">
<ellipse cx="56.00" cy="392.00" rx="6.5" ry="9" fill="url(#cyan)" filter="url(#b1)" opacity="0.9"/>
<ellipse cx="56.20" cy="391.60" rx="2.4" ry="3.6" fill="#20f060" filter="url(#b2)"/>
<ellipse cx="58.00" cy="380.00" rx="4" ry="4" fill="url(#lblue)" filter="url(#b1)"/>
<ellipse cx="40.00" cy="389.00" rx="12" ry="10" fill="url(#cyan)" opacity="0.85" transform="rotate(35 40.00 389.00)"/>
<ellipse cx="38.50" cy="386.50" rx="11" ry="5.5" fill="url(#hot)" transform="rotate(35 38.50 386.50)"/>
<ellipse cx="38.60" cy="385.20" rx="2.6" ry="1.4" fill="#ff0000" filter="url(#b1)" transform="rotate(35 38.60 385.20)"/>
</g>
<ellipse cx="97.00" cy="374.00" rx="14" ry="3" fill="#000" filter="url(#speck)" opacity="0.45"/>
<ellipse cx="111.50" cy="392.00" rx="3.5" ry="11" fill="#000" filter="url(#speck)" opacity="0.5"/>
<path d="M75.91,378.22 C76.75,377.29 78.99,377.38 80.95,377.66 C82.91,377.94 85.42,379.24 87.66,379.90 C89.90,380.55 92.32,381.76 94.37,381.57 C96.42,381.39 98.47,379.80 99.96,378.78 C101.46,377.75 102.20,376.08 103.32,375.42 C104.44,374.77 105.74,374.68 106.68,374.86 C107.61,375.05 108.73,375.52 108.91,376.54 C109.10,377.57 107.79,379.34 107.79,381.02 C107.79,382.69 108.45,384.93 108.91,386.61 C109.38,388.29 110.40,389.03 110.59,391.08 C110.78,393.13 110.87,397.33 110.03,398.91 C109.19,400.50 107.42,400.40 105.56,400.59 C103.69,400.78 100.71,400.31 98.85,400.03 C96.98,399.75 95.68,398.73 94.37,398.91 C93.07,399.10 92.69,400.55 91.02,401.15 C89.34,401.75 85.98,402.83 84.30,402.49 C82.63,402.16 81.88,401.00 80.95,399.14 C80.02,397.27 79.55,393.95 78.71,391.31 C77.87,388.66 76.38,385.43 75.91,383.25 C75.45,381.07 75.08,379.15 75.91,378.22 Z" fill="#000" stroke="#000" stroke-width="5.00" filter="url(#speck)" opacity="0.64"/>
<path d="M75.91,378.22 C76.75,377.29 78.99,377.38 80.95,377.66 C82.91,377.94 85.42,379.24 87.66,379.90 C89.90,380.55 92.32,381.76 94.37,381.57 C96.42,381.39 98.47,379.80 99.96,378.78 C101.46,377.75 102.20,376.08 103.32,375.42 C104.44,374.77 105.74,374.68 106.68,374.86 C107.61,375.05 108.73,375.52 108.91,376.54 C109.10,377.57 107.79,379.34 107.79,381.02 C107.79,382.69 108.45,384.93 108.91,386.61 C109.38,388.29 110.40,389.03 110.59,391.08 C110.78,393.13 110.87,397.33 110.03,398.91 C109.19,400.50 107.42,400.40 105.56,400.59 C103.69,400.78 100.71,400.31 98.85,400.03 C96.98,399.75 95.68,398.73 94.37,398.91 C93.07,399.10 92.69,400.55 91.02,401.15 C89.34,401.75 85.98,402.83 84.30,402.49 C82.63,402.16 81.88,401.00 80.95,399.14 C80.02,397.27 79.55,393.95 78.71,391.31 C77.87,388.66 76.38,385.43 75.91,383.25 C75.45,381.07 75.08,379.15 75.91,378.22 Z" fill="#000" stroke="#000" stroke-width="2.00" filter="url(#b1)" opacity="0.72"/>
<path d="M75.91,378.22 C76.75,377.29 78.99,377.38 80.95,377.66 C82.91,377.94 85.42,379.24 87.66,379.90 C89.90,380.55 92.32,381.76 94.37,381.57 C96.42,381.39 98.47,379.80 99.96,378.78 C101.46,377.75 102.20,376.08 103.32,375.42 C104.44,374.77 105.74,374.68 106.68,374.86 C107.61,375.05 108.73,375.52 108.91,376.54 C109.10,377.57 107.79,379.34 107.79,381.02 C107.79,382.69 108.45,384.93 108.91,386.61 C109.38,388.29 110.40,389.03 110.59,391.08 C110.78,393.13 110.87,397.33 110.03,398.91 C109.19,400.50 107.42,400.40 105.56,400.59 C103.69,400.78 100.71,400.31 98.85,400.03 C96.98,399.75 95.68,398.73 94.37,398.91 C93.07,399.10 92.69,400.55 91.02,401.15 C89.34,401.75 85.98,402.83 84.30,402.49 C82.63,402.16 81.88,401.00 80.95,399.14 C80.02,397.27 79.55,393.95 78.71,391.31 C77.87,388.66 76.38,385.43 75.91,383.25 C75.45,381.07 75.08,379.15 75.91,378.22 Z" fill="#0a3cff" filter="url(#b1)"/>
<clipPath id="bc6"><path d="M75.91,378.22 C76.75,377.29 78.99,377.38 80.95,377.66 C82.91,377.94 85.42,379.24 87.66,379.90 C89.90,380.55 92.32,381.76 94.37,381.57 C96.42,381.39 98.47,379.80 99.96,378.78 C101.46,377.75 102.20,376.08 103.32,375.42 C104.44,374.77 105.74,374.68 106.68,374.86 C107.61,375.05 108.73,375.52 108.91,376.54 C109.10,377.57 107.79,379.34 107.79,381.02 C107.79,382.69 108.45,384.93 108.91,386.61 C109.38,388.29 110.40,389.03 110.59,391.08 C110.78,393.13 110.87,397.33 110.03,398.91 C109.19,400.50 107.42,400.40 105.56,400.59 C103.69,400.78 100.71,400.31 98.85,400.03 C96.98,399.75 95.68,398.73 94.37,398.91 C93.07,399.10 92.69,400.55 91.02,401.15 C89.34,401.75 85.98,402.83 84.30,402.49 C82.63,402.16 81.88,401.00 80.95,399.14 C80.02,397.27 79.55,393.95 78.71,391.31 C77.87,388.66 76.38,385.43 75.91,383.25 C75.45,381.07 75.08,379.15 75.91,378.22 Z"/></clipPath><g clip-path="url(#bc6)">
<ellipse cx="104.00" cy="393.00" rx="7" ry="6.5" fill="url(#cyan)" filter="url(#b1)"/>
<ellipse cx="86.00" cy="397.50" rx="4.5" ry="4" fill="url(#cyan)" filter="url(#b1)"/>
<ellipse cx="90.00" cy="390.00" rx="9" ry="8" fill="url(#lblue)" filter="url(#b1)"/>
<ellipse cx="83.40" cy="384.90" rx="15.46" ry="11.42" fill="url(#lblue)" opacity="0.8"/>
<ellipse cx="83.40" cy="384.90" rx="9.66" ry="7.14" fill="url(#hot)"/>
</g>
<rect x="51.60" y="301.90" width="9.40" height="9.50" fill="none" stroke="#b02040" stroke-width="0.9" opacity="0.85"/>
<rect x="96.80" y="301.30" width="9.30" height="10.10" fill="none" stroke="#b02040" stroke-width="0.9" opacity="0.85"/>
<rect x="51.70" y="347.30" width="9.90" height="9.00" fill="none" stroke="#b02040" stroke-width="0.9" opacity="0.85"/>
<rect x="96.40" y="347.30" width="9.70" height="9.00" fill="none" stroke="#b02040" stroke-width="0.9" opacity="0.85"/>
<rect x="51.20" y="387.70" width="10.40" height="10.10" fill="none" stroke="#b02040" stroke-width="0.9" opacity="0.85"/>
<rect x="98.00" y="388.80" width="12.60" height="11.80" fill="none" stroke="#b02040" stroke-width="0.9" opacity="0.85"/>
<line x1="30.30" y1="317.30" x2="73.50" y2="317.30" stroke="#777" stroke-width="0.7" stroke-dasharray="0.7,1.3"/>
<line x1="30.70" y1="274.70" x2="30.70" y2="317.70" stroke="#888" stroke-width="0.7" stroke-dasharray="0.7,1.6"/>
<line x1="38.64" y1="317.30" x2="43.06" y2="317.30" stroke="#333" stroke-width="1.0"/>
<line x1="30.70" y1="300.60" x2="30.70" y2="303.24" stroke="#333" stroke-width="1.0"/>
<line x1="75.70" y1="317.30" x2="118.90" y2="317.30" stroke="#777" stroke-width="0.7" stroke-dasharray="0.7,1.3"/>
<line x1="76.10" y1="274.70" x2="76.10" y2="317.70" stroke="#888" stroke-width="0.7" stroke-dasharray="0.7,1.6"/>
<line x1="84.04" y1="317.30" x2="88.46" y2="317.30" stroke="#333" stroke-width="1.0"/>
<line x1="76.10" y1="300.60" x2="76.10" y2="303.24" stroke="#333" stroke-width="1.0"/>
<line x1="30.30" y1="362.00" x2="73.50" y2="362.00" stroke="#777" stroke-width="0.7" stroke-dasharray="0.7,1.3"/>
<line x1="30.70" y1="319.40" x2="30.70" y2="362.40" stroke="#888" stroke-width="0.7" stroke-dasharray="0.7,1.6"/>
<line x1="38.64" y1="362.00" x2="43.06" y2="362.00" stroke="#333" stroke-width="1.0"/>
<line x1="30.70" y1="345.30" x2="30.70" y2="347.94" stroke="#333" stroke-width="1.0"/>
<line x1="75.70" y1="362.00" x2="118.90" y2="362.00" stroke="#777" stroke-width="0.7" stroke-dasharray="0.7,1.3"/>
<line x1="76.10" y1="319.40" x2="76.10" y2="362.40" stroke="#888" stroke-width="0.7" stroke-dasharray="0.7,1.6"/>
<line x1="84.04" y1="362.00" x2="88.46" y2="362.00" stroke="#333" stroke-width="1.0"/>
<line x1="76.10" y1="345.30" x2="76.10" y2="347.94" stroke="#333" stroke-width="1.0"/>
<line x1="30.30" y1="406.90" x2="73.50" y2="406.90" stroke="#777" stroke-width="0.7" stroke-dasharray="0.7,1.3"/>
<line x1="30.70" y1="364.30" x2="30.70" y2="407.30" stroke="#888" stroke-width="0.7" stroke-dasharray="0.7,1.6"/>
<line x1="38.64" y1="406.90" x2="43.06" y2="406.90" stroke="#333" stroke-width="1.0"/>
<line x1="30.70" y1="390.20" x2="30.70" y2="392.84" stroke="#333" stroke-width="1.0"/>
<line x1="75.70" y1="406.90" x2="118.90" y2="406.90" stroke="#777" stroke-width="0.7" stroke-dasharray="0.7,1.3"/>
<line x1="76.10" y1="364.30" x2="76.10" y2="407.30" stroke="#888" stroke-width="0.7" stroke-dasharray="0.7,1.6"/>
<line x1="84.04" y1="406.90" x2="88.46" y2="406.90" stroke="#333" stroke-width="1.0"/>
<line x1="76.10" y1="390.20" x2="76.10" y2="392.84" stroke="#333" stroke-width="1.0"/>
<text x="72.40" y="315.80" font-size="8.8" stroke="#2a2aff" stroke-width="0.3" text-anchor="end" fill="#2a2aff">1.4</text>
<text x="117.50" y="315.60" font-size="8.8" stroke="#2a2aff" stroke-width="0.3" text-anchor="end" fill="#2a2aff">1.5</text>
<text x="72.40" y="361.50" font-size="8.8" stroke="#2a2aff" stroke-width="0.3" text-anchor="end" fill="#2a2aff">0.4</text>
<text x="117.50" y="361.40" font-size="8.8" stroke="#2a2aff" stroke-width="0.3" text-anchor="end" fill="#2a2aff">0.8</text>
<text x="72.20" y="406.00" font-size="8.8" stroke="#2a2aff" stroke-width="0.3" text-anchor="end" fill="#2a2aff">8.5</text>
<text x="117.50" y="406.40" font-size="8.8" stroke="#2a2aff" stroke-width="0.3" text-anchor="end" fill="#2a2aff">11</text>
<text x="121.70" y="297.60" font-size="8.4" stroke="#231f20" stroke-width="0.22" fill="#231f20" textLength="15.2" lengthAdjust="spacingAndGlyphs">Ctrl.</text>
<text x="121.70" y="345.10" font-size="8.4" stroke="#231f20" stroke-width="0.22" fill="#231f20" textLength="10.4" lengthAdjust="spacingAndGlyphs">DT</text>
<text x="121.70" y="386.30" font-size="8.4" stroke="#231f20" stroke-width="0.22" fill="#231f20" textLength="18.5" lengthAdjust="spacingAndGlyphs">IL-2 /</text>
<text x="121.70" y="396.20" font-size="8.4" stroke="#231f20" stroke-width="0.22" fill="#231f20" textLength="24.4" lengthAdjust="spacingAndGlyphs">JES6-1</text>
<text x="24.20" y="341.60" font-size="10.6" stroke="#231f20" stroke-width="0.22" text-anchor="middle" fill="#231f20" textLength="10.5" lengthAdjust="spacingAndGlyphs" transform="rotate(-90 24.20 341.60)">LIN</text>
<text x="62.20" y="420.80" font-size="10.0" stroke="#231f20" stroke-width="0.22" fill="#231f20" textLength="23.8" lengthAdjust="spacingAndGlyphs">CD11b</text>
<text x="195.90" y="236.20" font-size="9.4" stroke="#231f20" stroke-width="0.22" fill="#231f20" textLength="43.1" lengthAdjust="spacingAndGlyphs">Thrombus</text>
<line x1="182.90" y1="241.90" x2="182.90" y2="310.90" stroke="#111" stroke-width="1.1"/>
<line x1="182.40" y1="310.50" x2="251.40" y2="310.50" stroke="#111" stroke-width="1.1"/>
<line x1="179.70" y1="310.50" x2="182.90" y2="310.50" stroke="#111" stroke-width="0.9"/>
<text x="177.90" y="313.20" font-size="7.6" stroke="#231f20" stroke-width="0.22" text-anchor="end" fill="#231f20">0</text>
<line x1="179.70" y1="301.10" x2="182.90" y2="301.10" stroke="#111" stroke-width="0.9"/>
<text x="177.90" y="303.80" font-size="7.6" stroke="#231f20" stroke-width="0.22" text-anchor="end" fill="#231f20">2</text>
<line x1="179.70" y1="291.70" x2="182.90" y2="291.70" stroke="#111" stroke-width="0.9"/>
<text x="177.90" y="294.40" font-size="7.6" stroke="#231f20" stroke-width="0.22" text-anchor="end" fill="#231f20">4</text>
<line x1="179.70" y1="282.30" x2="182.90" y2="282.30" stroke="#111" stroke-width="0.9"/>
<text x="177.90" y="285.00" font-size="7.6" stroke="#231f20" stroke-width="0.22" text-anchor="end" fill="#231f20">6</text>
<line x1="179.70" y1="272.90" x2="182.90" y2="272.90" stroke="#111" stroke-width="0.9"/>
<text x="177.90" y="275.60" font-size="7.6" stroke="#231f20" stroke-width="0.22" text-anchor="end" fill="#231f20">8</text>
<line x1="179.70" y1="263.50" x2="182.90" y2="263.50" stroke="#111" stroke-width="0.9"/>
<text x="177.90" y="266.20" font-size="7.6" stroke="#231f20" stroke-width="0.22" text-anchor="end" fill="#231f20">10</text>
<line x1="179.70" y1="254.10" x2="182.90" y2="254.10" stroke="#111" stroke-width="0.9"/>
<text x="177.90" y="256.80" font-size="7.6" stroke="#231f20" stroke-width="0.22" text-anchor="end" fill="#231f20">12</text>
<line x1="179.70" y1="244.70" x2="182.90" y2="244.70" stroke="#111" stroke-width="0.9"/>
<text x="177.90" y="247.40" font-size="7.6" stroke="#231f20" stroke-width="0.22" text-anchor="end" fill="#231f20">14</text>
<line x1="186.50" y1="310.50" x2="186.50" y2="313.50" stroke="#111" stroke-width="0.9"/>
<line x1="217.60" y1="310.50" x2="217.60" y2="313.50" stroke="#111" stroke-width="0.9"/>
<line x1="248.40" y1="310.50" x2="248.40" y2="313.50" stroke="#111" stroke-width="0.9"/>
<line x1="190.40" y1="259.68" x2="213.70" y2="264.97" stroke="#72b843" stroke-width="1.4"/>
<line x1="221.59" y1="265.61" x2="244.41" y2="264.21" stroke="#72b843" stroke-width="1.4"/>
<line x1="189.78" y1="261.08" x2="214.32" y2="278.14" stroke="#2e4b8b" stroke-width="1.4"/>
<line x1="220.83" y1="282.78" x2="245.17" y2="300.62" stroke="#2e4b8b" stroke-width="1.4"/>
<line x1="189.03" y1="261.90" x2="215.07" y2="293.77" stroke="#be1237" stroke-width="1.4"/>
<line x1="221.36" y1="298.25" x2="244.64" y2="306.77" stroke="#be1237" stroke-width="1.4"/>
<line x1="217.60" y1="260.68" x2="217.60" y2="271.02" stroke="#222" stroke-width="0.8"/>
<line x1="215.80" y1="260.68" x2="219.40" y2="260.68" stroke="#222" stroke-width="0.8"/>
<line x1="215.80" y1="271.02" x2="219.40" y2="271.02" stroke="#222" stroke-width="0.8"/>
<line x1="248.40" y1="258.80" x2="248.40" y2="269.14" stroke="#222" stroke-width="0.8"/>
<line x1="246.60" y1="258.80" x2="250.20" y2="258.80" stroke="#222" stroke-width="0.8"/>
<line x1="246.60" y1="269.14" x2="250.20" y2="269.14" stroke="#222" stroke-width="0.8"/>
<line x1="186.50" y1="251.75" x2="186.50" y2="265.85" stroke="#222" stroke-width="0.8"/>
<line x1="184.70" y1="251.75" x2="188.30" y2="251.75" stroke="#222" stroke-width="0.8"/>
<line x1="184.70" y1="265.85" x2="188.30" y2="265.85" stroke="#222" stroke-width="0.8"/>
<circle cx="186.50" cy="258.80" r="2.35" fill="#72b843" stroke="#111" stroke-width="0.95"/>
<circle cx="217.60" cy="265.85" r="2.35" fill="#72b843" stroke="#111" stroke-width="0.95"/>
<circle cx="248.40" cy="263.97" r="2.35" fill="#72b843" stroke="#111" stroke-width="0.95"/>
<circle cx="186.50" cy="258.80" r="2.35" fill="#2e4b8b" stroke="#111" stroke-width="0.95"/>
<circle cx="217.60" cy="280.42" r="2.35" fill="#2e4b8b" stroke="#111" stroke-width="0.95"/>
<circle cx="248.40" cy="302.98" r="2.35" fill="#2e4b8b" stroke="#111" stroke-width="0.95"/>
<circle cx="186.50" cy="258.80" r="2.35" fill="#be1237" stroke="#111" stroke-width="0.95"/>
<circle cx="217.60" cy="296.87" r="2.35" fill="#be1237" stroke="#111" stroke-width="0.95"/>
<circle cx="248.40" cy="308.15" r="2.35" fill="#be1237" stroke="#111" stroke-width="0.95"/>
<circle cx="186.50" cy="258.80" r="2.35" fill="#2e4b8b" stroke="#111" stroke-width="0.95"/>
<text x="217.95" y="261.30" font-size="7.4" stroke="#fff" stroke-width="2.6" text-anchor="middle" fill="#fff" letter-spacing="0.7">***</text>
<text x="217.95" y="261.30" font-size="7.4" stroke="#231f20" stroke-width="0.22" text-anchor="middle" fill="#231f20" letter-spacing="0.7">***</text>
<text x="248.75" y="259.90" font-size="7.4" stroke="#fff" stroke-width="2.6" text-anchor="middle" fill="#fff" letter-spacing="0.7">***</text>
<text x="248.75" y="259.90" font-size="7.4" stroke="#231f20" stroke-width="0.22" text-anchor="middle" fill="#231f20" letter-spacing="0.7">***</text>
<text x="207.95" y="301.30" font-size="7.4" stroke="#fff" stroke-width="2.6" text-anchor="middle" fill="#fff" letter-spacing="0.7">***</text>
<text x="207.95" y="301.30" font-size="7.4" stroke="#231f20" stroke-width="0.22" text-anchor="middle" fill="#231f20" letter-spacing="0.7">***</text>
<text x="248.40" y="299.30" font-size="7.6" stroke="#231f20" stroke-width="0.22" text-anchor="middle" fill="#231f20">ns</text>
<text x="198.30" y="337.30" font-size="9.4" stroke="#231f20" stroke-width="0.22" fill="#231f20" textLength="40.4" lengthAdjust="spacingAndGlyphs">Vein Wall</text>
<line x1="183.90" y1="342.50" x2="183.90" y2="411.10" stroke="#111" stroke-width="1.1"/>
<line x1="183.40" y1="410.70" x2="252.20" y2="410.70" stroke="#111" stroke-width="1.1"/>
<line x1="180.70" y1="410.70" x2="183.90" y2="410.70" stroke="#111" stroke-width="0.9"/>
<text x="178.90" y="413.40" font-size="7.6" stroke="#231f20" stroke-width="0.22" text-anchor="end" fill="#231f20">0</text>
<line x1="180.70" y1="394.35" x2="183.90" y2="394.35" stroke="#111" stroke-width="0.9"/>
<text x="178.90" y="397.05" font-size="7.6" stroke="#231f20" stroke-width="0.22" text-anchor="end" fill="#231f20">5</text>
<line x1="180.70" y1="378.00" x2="183.90" y2="378.00" stroke="#111" stroke-width="0.9"/>
<text x="178.90" y="380.70" font-size="7.6" stroke="#231f20" stroke-width="0.22" text-anchor="end" fill="#231f20">10</text>
<line x1="180.70" y1="361.65" x2="183.90" y2="361.65" stroke="#111" stroke-width="0.9"/>
<text x="178.90" y="364.35" font-size="7.6" stroke="#231f20" stroke-width="0.22" text-anchor="end" fill="#231f20">15</text>
<line x1="180.70" y1="345.30" x2="183.90" y2="345.30" stroke="#111" stroke-width="0.9"/>
<text x="178.90" y="348.00" font-size="7.6" stroke="#231f20" stroke-width="0.22" text-anchor="end" fill="#231f20">20</text>
<line x1="188.00" y1="410.70" x2="188.00" y2="413.70" stroke="#111" stroke-width="0.9"/>
<line x1="218.90" y1="410.70" x2="218.90" y2="413.70" stroke="#111" stroke-width="0.9"/>
<line x1="249.20" y1="410.70" x2="249.20" y2="413.70" stroke="#111" stroke-width="0.9"/>
<line x1="191.96" y1="358.31" x2="214.94" y2="361.72" stroke="#72b843" stroke-width="1.4"/>
<line x1="222.60" y1="363.82" x2="245.50" y2="373.21" stroke="#72b843" stroke-width="1.4"/>
<line x1="191.02" y1="360.35" x2="215.88" y2="381.92" stroke="#2e4b8b" stroke-width="1.4"/>
<line x1="222.19" y1="386.81" x2="245.91" y2="403.19" stroke="#2e4b8b" stroke-width="1.4"/>
<line x1="190.29" y1="361.00" x2="216.61" y2="398.59" stroke="#be1237" stroke-width="1.4"/>
<line x1="222.79" y1="402.80" x2="245.31" y2="408.14" stroke="#be1237" stroke-width="1.4"/>
<line x1="218.90" y1="353.80" x2="218.90" y2="370.81" stroke="#222" stroke-width="0.8"/>
<line x1="217.10" y1="353.80" x2="220.70" y2="353.80" stroke="#222" stroke-width="0.8"/>
<line x1="217.10" y1="370.81" x2="220.70" y2="370.81" stroke="#222" stroke-width="0.8"/>
<line x1="249.20" y1="371.46" x2="249.20" y2="378.00" stroke="#222" stroke-width="0.8"/>
<line x1="247.40" y1="371.46" x2="251.00" y2="371.46" stroke="#222" stroke-width="0.8"/>
<line x1="247.40" y1="378.00" x2="251.00" y2="378.00" stroke="#222" stroke-width="0.8"/>
<line x1="188.00" y1="350.86" x2="188.00" y2="364.59" stroke="#222" stroke-width="0.8"/>
<line x1="186.20" y1="350.86" x2="189.80" y2="350.86" stroke="#222" stroke-width="0.8"/>
<line x1="186.20" y1="364.59" x2="189.80" y2="364.59" stroke="#222" stroke-width="0.8"/>
<circle cx="188.00" cy="357.73" r="2.35" fill="#72b843" stroke="#111" stroke-width="0.95"/>
<circle cx="218.90" cy="362.30" r="2.35" fill="#72b843" stroke="#111" stroke-width="0.95"/>
<circle cx="249.20" cy="374.73" r="2.35" fill="#72b843" stroke="#111" stroke-width="0.95"/>
<circle cx="188.00" cy="357.73" r="2.35" fill="#2e4b8b" stroke="#111" stroke-width="0.95"/>
<circle cx="218.90" cy="384.54" r="2.35" fill="#2e4b8b" stroke="#111" stroke-width="0.95"/>
<circle cx="249.20" cy="405.47" r="2.35" fill="#2e4b8b" stroke="#111" stroke-width="0.95"/>
<circle cx="188.00" cy="357.73" r="2.35" fill="#be1237" stroke="#111" stroke-width="0.95"/>
<circle cx="218.90" cy="401.87" r="2.35" fill="#be1237" stroke="#111" stroke-width="0.95"/>
<circle cx="249.20" cy="409.06" r="2.35" fill="#be1237" stroke="#111" stroke-width="0.95"/>
<circle cx="188.00" cy="357.73" r="2.35" fill="#2e4b8b" stroke="#111" stroke-width="0.95"/>
<text x="219.25" y="354.20" font-size="7.4" stroke="#fff" stroke-width="2.6" text-anchor="middle" fill="#fff" letter-spacing="0.7">***</text>
<text x="219.25" y="354.20" font-size="7.4" stroke="#231f20" stroke-width="0.22" text-anchor="middle" fill="#231f20" letter-spacing="0.7">***</text>
<text x="249.55" y="372.20" font-size="7.4" stroke="#fff" stroke-width="2.6" text-anchor="middle" fill="#fff" letter-spacing="0.7">***</text>
<text x="249.55" y="372.20" font-size="7.4" stroke="#231f20" stroke-width="0.22" text-anchor="middle" fill="#231f20" letter-spacing="0.7">***</text>
<text x="208.85" y="405.90" font-size="7.4" stroke="#fff" stroke-width="2.6" text-anchor="middle" fill="#fff" letter-spacing="0.7">***</text>
<text x="208.85" y="405.90" font-size="7.4" stroke="#231f20" stroke-width="0.22" text-anchor="middle" fill="#231f20" letter-spacing="0.7">***</text>
<text x="249.20" y="399.00" font-size="7.6" stroke="#231f20" stroke-width="0.22" text-anchor="middle" fill="#231f20">ns</text>
<text x="186.50" y="323.00" font-size="7.8" stroke="#231f20" stroke-width="0.22" text-anchor="middle" fill="#231f20">7</text>
<text x="217.60" y="323.00" font-size="7.8" stroke="#231f20" stroke-width="0.22" text-anchor="middle" fill="#231f20">14</text>
<text x="248.40" y="323.00" font-size="7.8" stroke="#231f20" stroke-width="0.22" text-anchor="middle" fill="#231f20">21</text>
<text x="188.00" y="422.60" font-size="7.8" stroke="#231f20" stroke-width="0.22" text-anchor="middle" fill="#231f20">7</text>
<text x="218.90" y="422.60" font-size="7.8" stroke="#231f20" stroke-width="0.22" text-anchor="middle" fill="#231f20">14</text>
<text x="249.20" y="422.60" font-size="7.8" stroke="#231f20" stroke-width="0.22" text-anchor="middle" fill="#231f20">21</text>
<text x="218.60" y="436.20" font-size="8.2" stroke="#231f20" stroke-width="0.22" text-anchor="middle" fill="#231f20" textLength="12.1" lengthAdjust="spacingAndGlyphs">Day</text>
<text x="161.60" y="325.30" font-size="9.0" fill="#231f20" stroke="#231f20" stroke-width="0.22" text-anchor="middle" textLength="72.7" lengthAdjust="spacingAndGlyphs" transform="rotate(-90 161.60 325.30)">% monocytes/CD45<tspan font-size="6.12" dy="-3.2">+</tspan><tspan dy="3.2"> cells</tspan></text>
<text x="261.10" y="227.80" font-size="11.2" stroke="#000" stroke-width="0.1" font-weight="bold" fill="#000">D</text>
<text x="287.40" y="241.00" font-size="9.0" fill="#231f20" stroke="#231f20" stroke-width="0.22" font-style="italic" textLength="73.2" lengthAdjust="spacingAndGlyphs">viable CD45<tspan font-size="6.12" dy="-3.2">+</tspan><tspan dy="3.2">LIN</tspan></text>
<text x="361.00" y="237.40" font-size="7.0" stroke="#231f20" stroke-width="0.15" font-style="italic" fill="#231f20" textLength="12.6" lengthAdjust="spacingAndGlyphs">neg</text>
<text x="294.40" y="252.50" font-size="9.2" fill="#231f20" stroke="#231f20" stroke-width="0.22" font-style="italic" textLength="72.2" lengthAdjust="spacingAndGlyphs">CD11b<tspan font-size="6.26" dy="-3.2">+</tspan><tspan dy="3.2"> singlets</tspan></text>
<text x="285.80" y="266.30" font-size="9.3" stroke="#231f20" stroke-width="0.22" fill="#231f20" textLength="43.1" lengthAdjust="spacingAndGlyphs">Thrombus</text>
<text x="334.20" y="266.30" font-size="9.3" stroke="#231f20" stroke-width="0.22" fill="#231f20" textLength="41.5" lengthAdjust="spacingAndGlyphs">Vein Wall</text>
<rect x="284.70" y="270.50" width="44.00" height="43.20" fill="#fff" stroke="#c8c8c8" stroke-width="0.8"/>
<rect x="331.60" y="270.50" width="44.00" height="43.20" fill="#fff" stroke="#c8c8c8" stroke-width="0.8"/>
<rect x="284.70" y="317.40" width="44.00" height="43.60" fill="#fff" stroke="#c8c8c8" stroke-width="0.8"/>
<rect x="331.60" y="317.40" width="44.00" height="43.60" fill="#fff" stroke="#c8c8c8" stroke-width="0.8"/>
<rect x="284.70" y="364.20" width="44.00" height="44.60" fill="#fff" stroke="#c8c8c8" stroke-width="0.8"/>
<rect x="331.60" y="364.20" width="44.00" height="44.60" fill="#fff" stroke="#c8c8c8" stroke-width="0.8"/>
<path d="M290.39,303.91 C291.40,302.83 294.21,302.57 296.54,302.35 C298.87,302.12 301.95,302.38 304.37,302.57 C306.79,302.76 308.66,303.54 311.08,303.47 C313.51,303.39 316.34,302.27 318.91,302.12 C321.49,301.97 325.12,301.90 326.52,302.57 C327.92,303.24 327.41,304.99 327.30,306.15 C327.19,307.31 327.25,308.80 325.85,309.51 C324.45,310.21 320.81,310.12 318.91,310.40 C317.01,310.68 315.93,311.30 314.44,311.18 C312.95,311.07 312.01,309.86 309.96,309.73 C307.91,309.60 304.56,310.34 302.13,310.40 C299.71,310.46 297.36,310.33 295.42,310.06 C293.48,309.80 291.34,309.86 290.50,308.83 C289.66,307.81 289.38,304.99 290.39,303.91 Z" fill="#0a1cff" filter="url(#b1)"/>
<path d="M291.51,304.81 C292.48,304.06 295.52,303.65 297.66,303.47 C299.80,303.28 302.13,303.50 304.37,303.69 C306.61,303.88 308.66,304.62 311.08,304.58 C313.51,304.55 316.49,303.58 318.91,303.47 C321.34,303.35 324.47,303.19 325.62,303.91 C326.78,304.64 326.97,307.01 325.85,307.83 C324.73,308.65 321.37,308.70 318.91,308.83 C316.45,308.96 313.51,308.57 311.08,308.61 C308.66,308.65 306.61,309.02 304.37,309.06 C302.13,309.10 299.75,309.02 297.66,308.83 C295.57,308.65 292.87,308.61 291.84,307.94 C290.82,307.27 290.54,305.55 291.51,304.81 Z" fill="#00d8f0" filter="url(#b1)"/>
<ellipse cx="294.30" cy="306.40" rx="3.0" ry="2.3" fill="#30f050" filter="url(#b1)"/>
<ellipse cx="302.10" cy="305.90" rx="2.8" ry="2.3" fill="#30f060" filter="url(#b1)"/>
<ellipse cx="308.80" cy="306.40" rx="2.8" ry="2.1" fill="#20f0a0" filter="url(#b1)"/>
<ellipse cx="315.60" cy="306.60" rx="2.6" ry="2.0" fill="#10e8d0" filter="url(#b1)"/>
<ellipse cx="321.50" cy="306.00" rx="3.6" ry="2.5" fill="#40f040" filter="url(#b1)"/>
<ellipse cx="294.50" cy="306.60" rx="1.6" ry="1.0" fill="#f0f000" filter="url(#b1)"/>
<ellipse cx="321.80" cy="306.00" rx="2.0" ry="1.0" fill="#f0f000" filter="url(#b1)"/>
<ellipse cx="302.00" cy="305.80" rx="1.2" ry="1.0" fill="#f0f000" filter="url(#b1)"/>
<ellipse cx="309.50" cy="306.20" rx="1.0" ry="1.0" fill="#f0f000" filter="url(#b1)"/>
<ellipse cx="288.20" cy="309.50" rx="1.6" ry="1.5" fill="#10c8f0" filter="url(#b1)"/>
<ellipse cx="286.50" cy="312.90" rx="0.9" ry="0.8" fill="#0a1cff"/>
<ellipse cx="303.30" cy="295.00" rx="0.7" ry="0.5599999999999999" fill="#0a1cff" filter="url(#b1)"/>
<ellipse cx="305.50" cy="300.00" rx="1.3" ry="1.04" fill="#0a1cff" filter="url(#b1)"/>
<ellipse cx="308.80" cy="298.30" rx="1.2" ry="0.96" fill="#0a1cff" filter="url(#b1)"/>
<ellipse cx="310.50" cy="292.70" rx="0.7" ry="0.5599999999999999" fill="#0a1cff" filter="url(#b1)"/>
<ellipse cx="314.40" cy="300.60" rx="0.7" ry="0.5599999999999999" fill="#0a1cff" filter="url(#b1)"/>
<ellipse cx="300.50" cy="302.20" rx="0.8" ry="0.6400000000000001" fill="#0a1cff" filter="url(#b1)"/>
<ellipse cx="307.00" cy="299.50" rx="1.0" ry="0.8" fill="#0a1cff" filter="url(#b1)"/>
<path d="M335.83,306.15 C336.58,305.37 339.56,304.66 341.42,303.91 C343.29,303.17 345.62,303.07 347.02,301.68 C348.41,300.28 349.16,297.48 349.81,295.52 C350.46,293.57 350.09,291.48 350.93,289.93 C351.77,288.38 353.67,286.33 354.85,286.24 C356.02,286.15 357.38,288.25 357.98,289.37 C358.57,290.49 357.98,292.02 358.43,292.95 C358.87,293.88 360.33,293.88 360.66,294.96 C361.00,296.05 359.73,298.69 360.44,299.44 C361.15,300.18 363.61,299.96 364.91,299.44 C366.22,298.92 366.96,296.16 368.27,296.31 C369.57,296.46 371.77,298.69 372.74,300.33 C373.71,301.97 374.23,304.58 374.09,306.15 C373.94,307.72 373.94,309.06 371.85,309.73 C369.76,310.40 363.79,309.56 361.56,310.18 C359.32,310.79 359.54,313.12 358.43,313.42 C357.31,313.72 357.12,312.47 354.85,311.97 C352.57,311.46 347.76,310.96 344.78,310.40 C341.80,309.84 338.44,309.32 336.95,308.61 C335.46,307.90 335.08,306.93 335.83,306.15 Z" fill="#0a1cff" filter="url(#b1)"/>
<path d="M339.19,305.59 C340.49,304.71 345.71,304.53 347.57,302.57 C349.44,300.61 349.16,296.05 350.37,293.85 C351.58,291.65 353.69,289.37 354.85,289.37 C356.00,289.37 356.47,292.17 357.31,293.85 C358.15,295.52 358.43,298.47 359.88,299.44 C361.33,300.41 363.92,299.20 366.03,299.66 C368.14,300.13 371.40,300.93 372.52,302.23 C373.64,303.54 374.57,306.32 372.74,307.49 C370.92,308.67 365.29,308.98 361.56,309.28 C357.83,309.58 354.01,309.52 350.37,309.28 C346.74,309.04 341.61,308.44 339.74,307.83 C337.88,307.21 337.88,306.47 339.19,305.59 Z" fill="#00d0f8" filter="url(#b1)"/>
<path d="M343.66,305.59 C343.57,304.73 348.23,304.57 349.81,303.02 C351.40,301.47 352.14,297.84 353.17,296.31 C354.19,294.78 355.27,293.42 355.96,293.85 C356.65,294.27 356.37,297.57 357.31,298.88 C358.24,300.18 359.26,301.02 361.56,301.68 C363.85,302.33 369.48,301.82 371.06,302.79 C372.65,303.76 372.65,306.56 371.06,307.49 C369.48,308.42 365.01,308.28 361.56,308.39 C358.11,308.50 353.35,308.63 350.37,308.16 C347.39,307.70 343.75,306.45 343.66,305.59 Z" fill="#30f060" filter="url(#b1)" opacity="0.95"/>
<ellipse cx="353.50" cy="306.30" rx="4.0" ry="1.8" fill="#f0e800" filter="url(#b1)"/>
<ellipse cx="360.00" cy="306.00" rx="2.5" ry="1.3" fill="#e8f000" filter="url(#b1)" opacity="0.9"/>
<ellipse cx="370.00" cy="305.60" rx="3.2" ry="2.8" fill="#f0f000" filter="url(#b1)"/>
<ellipse cx="370.00" cy="305.60" rx="2.0" ry="1.7" fill="#ff1000" filter="url(#b1)"/>
<ellipse cx="340.00" cy="306.80" rx="2.4" ry="1.8" fill="#00c8f8" filter="url(#b1)"/>
<ellipse cx="367.50" cy="297.50" rx="0.8" ry="0.8" fill="#0a1cff"/>
<ellipse cx="363.00" cy="296.00" rx="0.8" ry="0.8" fill="#0a1cff"/>
<ellipse cx="292.00" cy="352.80" rx="3.9" ry="2.3" fill="#0a1cff" filter="url(#b1)" opacity="0.95"/>
<ellipse cx="292.00" cy="352.80" rx="3" ry="1.6" fill="#30e0a0" filter="url(#b1)"/>
<ellipse cx="300.00" cy="352.80" rx="3.4" ry="2.3" fill="#0a1cff" filter="url(#b1)" opacity="0.95"/>
<ellipse cx="300.00" cy="352.80" rx="2.5" ry="1.6" fill="#30f060" filter="url(#b1)"/>
<ellipse cx="307.00" cy="352.00" rx="3.9" ry="2.5" fill="#0a1cff" filter="url(#b1)" opacity="0.95"/>
<ellipse cx="307.00" cy="352.00" rx="3" ry="1.8" fill="#10b0f8" filter="url(#b1)"/>
<ellipse cx="315.00" cy="351.60" rx="3.4" ry="2.3" fill="#0a1cff" filter="url(#b1)" opacity="0.95"/>
<ellipse cx="315.00" cy="351.60" rx="2.5" ry="1.6" fill="#10d0f0" filter="url(#b1)"/>
<ellipse cx="322.50" cy="351.00" rx="4.1000000000000005" ry="3.3" fill="#0a1cff" filter="url(#b1)" opacity="0.95"/>
<ellipse cx="322.50" cy="351.00" rx="3.2" ry="2.6" fill="#40f040" filter="url(#b1)"/>
<ellipse cx="322.80" cy="347.50" rx="1.0" ry="2.0" fill="#10c8f0" filter="url(#b1)"/>
<ellipse cx="307.00" cy="343.50" rx="0.8" ry="0.8" fill="#0a1cff"/>
<ellipse cx="312.00" cy="340.00" rx="0.7" ry="0.7" fill="#0a1cff"/>
<ellipse cx="309.00" cy="355.50" rx="1.0" ry="1.0" fill="#0a1cff"/>
<ellipse cx="287.50" cy="356.00" rx="0.8" ry="0.8" fill="#0a1cff"/>
<path d="M333.03,351.91 C334.00,350.38 337.04,348.37 339.19,347.44 C341.33,346.51 344.78,347.25 345.90,346.32 C347.02,345.39 345.15,342.68 345.90,341.85 C346.64,341.01 348.88,341.47 350.37,341.29 C351.86,341.10 353.91,341.38 354.85,340.73 C355.78,340.07 355.50,338.12 355.96,337.37 C356.43,336.63 356.90,335.88 357.64,336.25 C358.39,336.63 358.85,338.68 360.44,339.61 C362.02,340.54 365.84,340.91 367.15,341.85 C368.45,342.78 367.34,344.27 368.27,345.20 C369.20,346.13 371.81,346.13 372.74,347.44 C373.67,348.74 373.86,351.50 373.86,353.03 C373.86,354.56 374.79,355.75 372.74,356.61 C370.69,357.47 365.29,357.99 361.56,358.18 C357.83,358.36 354.29,357.80 350.37,357.73 C346.46,357.65 340.90,357.92 338.07,357.73 C335.23,357.54 334.21,357.58 333.37,356.61 C332.53,355.64 332.06,353.44 333.03,351.91 Z" fill="#0a1cff" filter="url(#b1)"/>
<path d="M335.83,353.03 C336.67,352.10 338.07,350.65 341.42,349.90 C344.78,349.15 351.12,348.69 355.96,348.56 C360.81,348.43 367.62,348.46 370.51,349.12 C373.40,349.77 373.12,351.30 373.30,352.47 C373.49,353.65 373.58,355.42 371.62,356.16 C369.67,356.91 366.03,356.87 361.56,356.95 C357.08,357.02 348.97,356.85 344.78,356.61 C340.58,356.37 337.88,356.09 336.39,355.49 C334.90,354.90 334.99,353.96 335.83,353.03 Z" fill="#00d0f8" filter="url(#b1)"/>
<path d="M340.30,352.81 C341.24,352.25 342.35,351.39 345.90,351.02 C349.44,350.65 357.27,350.51 361.56,350.57 C365.84,350.63 369.95,350.66 371.62,351.35 C373.30,352.04 373.30,354.02 371.62,354.71 C369.95,355.40 366.03,355.36 361.56,355.49 C357.08,355.62 348.32,355.68 344.78,355.49 C341.24,355.31 341.05,354.82 340.30,354.37 C339.56,353.93 339.37,353.37 340.30,352.81 Z" fill="#30f060" filter="url(#b1)"/>
<path d="M343.66,353.03 C344.78,352.70 347.39,352.14 350.37,351.91 C353.35,351.69 358.11,351.65 361.56,351.69 C365.01,351.73 369.48,351.73 371.06,352.14 C372.65,352.55 372.65,353.78 371.06,354.15 C369.48,354.52 365.01,354.34 361.56,354.37 C358.11,354.41 353.35,354.45 350.37,354.37 C347.39,354.30 344.78,354.15 343.66,353.93 C342.54,353.70 342.54,353.37 343.66,353.03 Z" fill="#f0f000" filter="url(#b1)"/>
<ellipse cx="358.00" cy="352.80" rx="12" ry="1.2" fill="#ff3000" filter="url(#b1)" opacity="0.9"/>
<ellipse cx="370.00" cy="352.00" rx="2.4" ry="1.6" fill="#ff1000" filter="url(#b1)"/>
<path d="M287.03,397.79 C288.15,396.99 291.97,397.27 294.30,396.90 C296.63,396.53 299.15,395.78 301.02,395.56 C302.88,395.33 304.93,396.12 305.49,395.56 C306.05,395.00 304.00,393.32 304.37,392.20 C304.74,391.08 306.89,389.96 307.73,388.85 C308.57,387.73 308.66,386.61 309.40,385.49 C310.15,384.37 311.18,382.92 312.20,382.13 C313.23,381.35 314.81,380.61 315.56,380.79 C316.30,380.98 317.05,382.10 316.68,383.25 C316.30,384.41 314.21,386.38 313.32,387.73 C312.43,389.07 311.87,390.09 311.31,391.31 C310.75,392.52 309.26,394.20 309.96,395.00 C310.67,395.80 313.32,395.74 315.56,396.12 C317.79,396.49 321.67,396.58 323.39,397.23 C325.10,397.89 325.85,398.97 325.85,400.03 C325.85,401.09 325.10,402.90 323.39,403.61 C321.67,404.32 318.73,404.13 315.56,404.28 C312.39,404.43 307.73,404.56 304.37,404.51 C301.02,404.45 298.22,404.41 295.42,403.95 C292.63,403.48 288.99,402.73 287.59,401.71 C286.19,400.68 285.91,398.60 287.03,397.79 Z" fill="#0a1cff" filter="url(#b1)"/>
<path d="M289.83,398.91 C292.07,398.11 300.08,397.46 304.37,397.23 C308.66,397.01 312.20,397.29 315.56,397.57 C318.91,397.85 323.11,398.13 324.51,398.91 C325.90,399.70 325.44,401.62 323.95,402.27 C322.45,402.92 318.82,402.68 315.56,402.83 C312.29,402.98 308.47,403.29 304.37,403.16 C300.27,403.03 293.37,402.75 290.95,402.04 C288.52,401.34 287.59,399.71 289.83,398.91 Z" fill="#00d8f0" filter="url(#b1)"/>
<path d="M292.63,399.47 C294.49,398.97 300.55,398.48 304.37,398.35 C308.19,398.22 312.57,398.50 315.56,398.69 C318.54,398.88 321.24,398.97 322.27,399.47 C323.29,399.98 322.83,401.28 321.71,401.71 C320.59,402.14 318.45,401.95 315.56,402.04 C312.67,402.14 308.10,402.38 304.37,402.27 C300.64,402.16 295.14,401.84 293.19,401.37 C291.23,400.91 290.76,399.98 292.63,399.47 Z" fill="#40f040" filter="url(#b1)"/>
<ellipse cx="300.50" cy="400.60" rx="2.0" ry="1.6" fill="#ff8000" filter="url(#b1)"/>
<ellipse cx="317.80" cy="400.00" rx="2.0" ry="1.6" fill="#ff9000" filter="url(#b1)"/>
<ellipse cx="309.00" cy="400.30" rx="2.0" ry="1.2" fill="#e8f000" filter="url(#b1)"/>
<ellipse cx="292.50" cy="400.50" rx="1.6" ry="1.2" fill="#e8f000" filter="url(#b1)" opacity="0.9"/>
<path d="M304.93,393.88 C305.02,393.19 306.42,391.74 307.17,390.52 C307.91,389.31 308.53,387.82 309.40,386.61 C310.28,385.40 311.49,383.96 312.43,383.25 C313.36,382.54 314.66,381.99 315.00,382.36 C315.33,382.73 315.05,384.41 314.44,385.49 C313.82,386.57 312.24,387.69 311.31,388.85 C310.37,390.00 309.63,391.46 308.85,392.43 C308.06,393.39 307.26,394.42 306.61,394.66 C305.96,394.90 304.84,394.57 304.93,393.88 Z" fill="#20e0a0" filter="url(#b1)"/>
<ellipse cx="306.60" cy="381.60" rx="1.1" ry="1.0" fill="#10c8f0" filter="url(#b1)"/>
<ellipse cx="297.00" cy="391.00" rx="0.7" ry="0.7" fill="#0a1cff"/>
<path d="M336.95,400.03 C338.07,399.25 342.91,398.54 344.78,397.79 C346.64,397.05 347.48,397.05 348.13,395.56 C348.79,394.07 348.51,391.46 348.69,388.85 C348.88,386.24 348.23,381.57 349.25,379.90 C350.28,378.22 352.79,378.78 354.85,378.78 C356.90,378.78 359.69,378.78 361.56,379.90 C363.42,381.02 365.66,383.63 366.03,385.49 C366.40,387.35 363.98,389.40 363.79,391.08 C363.61,392.76 363.79,394.90 364.91,395.56 C366.03,396.21 369.16,394.44 370.51,395.00 C371.85,395.56 372.97,397.66 372.97,398.91 C372.97,400.16 371.85,401.52 370.51,402.49 C369.16,403.46 368.27,404.26 364.91,404.73 C361.56,405.20 354.85,405.66 350.37,405.29 C345.90,404.92 340.30,403.37 338.07,402.49 C335.83,401.62 335.83,400.81 336.95,400.03 Z" fill="#0a1cff" filter="url(#b1)"/>
<path d="M351.49,394.44 C350.84,393.04 351.30,389.59 352.05,387.73 C352.79,385.86 354.38,384.18 355.96,383.25 C357.55,382.32 360.25,381.67 361.56,382.13 C362.86,382.60 363.79,384.56 363.79,386.05 C363.79,387.54 362.12,389.50 361.56,391.08 C361.00,392.67 361.37,394.72 360.44,395.56 C359.51,396.40 357.46,396.30 355.96,396.12 C354.47,395.93 352.14,395.84 351.49,394.44 Z" fill="#00d0f8" filter="url(#b1)"/>
<path d="M353.17,393.88 C353.07,392.70 354.01,389.78 354.85,388.29 C355.68,386.79 357.12,385.58 358.20,384.93 C359.28,384.28 360.87,383.72 361.33,384.37 C361.80,385.02 361.52,387.35 361.00,388.85 C360.48,390.34 359.13,392.24 358.20,393.32 C357.27,394.40 356.24,395.24 355.40,395.33 C354.57,395.43 353.26,395.05 353.17,393.88 Z" fill="#40f040" filter="url(#b1)"/>
<ellipse cx="357.00" cy="389.00" rx="1.8" ry="3.2" fill="#f0e000" filter="url(#b1)" opacity="0.95" transform="rotate(35 357.00 389.00)"/>
<ellipse cx="356.60" cy="389.40" rx="1.0" ry="1.4" fill="#ff5000" filter="url(#b1)" opacity="0.9"/>
<path d="M341.42,400.03 C342.35,399.25 344.78,398.13 348.13,397.57 C351.49,397.01 357.92,396.68 361.56,396.68 C365.19,396.68 368.36,396.92 369.95,397.57 C371.53,398.22 371.72,399.58 371.06,400.59 C370.41,401.60 369.48,403.05 366.03,403.61 C362.58,404.17 354.29,404.17 350.37,403.95 C346.46,403.72 344.03,402.92 342.54,402.27 C341.05,401.62 340.49,400.81 341.42,400.03 Z" fill="#00d0f8" filter="url(#b1)"/>
<path d="M347.57,399.47 C348.32,398.86 349.91,398.26 352.61,398.02 C355.31,397.78 361.46,397.68 363.79,398.02 C366.12,398.35 366.59,399.29 366.59,400.03 C366.59,400.78 366.12,402.03 363.79,402.49 C361.46,402.96 355.22,402.96 352.61,402.83 C350.00,402.70 348.97,402.27 348.13,401.71 C347.30,401.15 346.83,400.09 347.57,399.47 Z" fill="#40f040" filter="url(#b1)"/>
<ellipse cx="357.00" cy="400.00" rx="6.5" ry="2.0" fill="#f0f000" filter="url(#b1)"/>
<ellipse cx="359.30" cy="400.00" rx="3.4" ry="1.4" fill="#ff2000" filter="url(#b1)"/>
<ellipse cx="344.80" cy="388.80" rx="1.2" ry="0.8" fill="#0a1cff"/>
<ellipse cx="343.70" cy="394.40" rx="1.0" ry="0.8" fill="#0a1cff"/>
<ellipse cx="333.50" cy="401.00" rx="0.9" ry="1.0" fill="#0a1cff"/>
<line x1="289.00" y1="278.10" x2="326.90" y2="278.10" stroke="#b8b8b8" stroke-width="0.6"/>
<rect x="287.00" y="285.90" width="40.40" height="23.80" fill="none" stroke="#9a9a9a" stroke-width="0.7"/>
<line x1="287.00" y1="301.20" x2="327.40" y2="301.20" stroke="#9a9a9a" stroke-width="0.6"/>
<line x1="300.60" y1="285.90" x2="300.60" y2="309.70" stroke="#6a6a6a" stroke-width="0.7"/>
<line x1="317.60" y1="285.90" x2="317.60" y2="309.70" stroke="#6a6a6a" stroke-width="0.7"/>
<line x1="300.60" y1="273.50" x2="300.60" y2="285.90" stroke="#c8c8c8" stroke-width="0.6"/>
<line x1="317.60" y1="273.50" x2="317.60" y2="285.90" stroke="#c8c8c8" stroke-width="0.6"/>
<line x1="335.90" y1="278.10" x2="373.80" y2="278.10" stroke="#b8b8b8" stroke-width="0.6"/>
<rect x="333.90" y="285.90" width="40.40" height="23.80" fill="none" stroke="#9a9a9a" stroke-width="0.7"/>
<line x1="333.90" y1="301.20" x2="374.30" y2="301.20" stroke="#9a9a9a" stroke-width="0.6"/>
<line x1="347.50" y1="285.90" x2="347.50" y2="309.70" stroke="#6a6a6a" stroke-width="0.7"/>
<line x1="364.50" y1="285.90" x2="364.50" y2="309.70" stroke="#6a6a6a" stroke-width="0.7"/>
<line x1="347.50" y1="273.50" x2="347.50" y2="285.90" stroke="#c8c8c8" stroke-width="0.6"/>
<line x1="364.50" y1="273.50" x2="364.50" y2="285.90" stroke="#c8c8c8" stroke-width="0.6"/>
<line x1="285.20" y1="312.80" x2="328.20" y2="312.80" stroke="#777" stroke-width="0.7" stroke-dasharray="0.7,1.3"/>
<line x1="285.60" y1="271.00" x2="285.60" y2="313.20" stroke="#888" stroke-width="0.7" stroke-dasharray="0.7,1.6"/>
<line x1="293.50" y1="312.80" x2="297.90" y2="312.80" stroke="#333" stroke-width="1.0"/>
<line x1="285.60" y1="296.42" x2="285.60" y2="299.01" stroke="#333" stroke-width="1.0"/>
<line x1="332.10" y1="312.80" x2="375.10" y2="312.80" stroke="#777" stroke-width="0.7" stroke-dasharray="0.7,1.3"/>
<line x1="332.50" y1="271.00" x2="332.50" y2="313.20" stroke="#888" stroke-width="0.7" stroke-dasharray="0.7,1.6"/>
<line x1="340.40" y1="312.80" x2="344.80" y2="312.80" stroke="#333" stroke-width="1.0"/>
<line x1="332.50" y1="296.42" x2="332.50" y2="299.01" stroke="#333" stroke-width="1.0"/>
<line x1="289.00" y1="325.00" x2="326.90" y2="325.00" stroke="#b8b8b8" stroke-width="0.6"/>
<rect x="287.00" y="332.80" width="40.40" height="24.20" fill="none" stroke="#9a9a9a" stroke-width="0.7"/>
<line x1="287.00" y1="348.10" x2="327.40" y2="348.10" stroke="#9a9a9a" stroke-width="0.6"/>
<line x1="300.60" y1="332.80" x2="300.60" y2="357.00" stroke="#6a6a6a" stroke-width="0.7"/>
<line x1="317.60" y1="332.80" x2="317.60" y2="357.00" stroke="#6a6a6a" stroke-width="0.7"/>
<line x1="300.60" y1="320.40" x2="300.60" y2="332.80" stroke="#c8c8c8" stroke-width="0.6"/>
<line x1="317.60" y1="320.40" x2="317.60" y2="332.80" stroke="#c8c8c8" stroke-width="0.6"/>
<line x1="335.90" y1="325.00" x2="373.80" y2="325.00" stroke="#b8b8b8" stroke-width="0.6"/>
<rect x="333.90" y="332.80" width="40.40" height="24.20" fill="none" stroke="#9a9a9a" stroke-width="0.7"/>
<line x1="333.90" y1="348.10" x2="374.30" y2="348.10" stroke="#9a9a9a" stroke-width="0.6"/>
<line x1="347.50" y1="332.80" x2="347.50" y2="357.00" stroke="#6a6a6a" stroke-width="0.7"/>
<line x1="364.50" y1="332.80" x2="364.50" y2="357.00" stroke="#6a6a6a" stroke-width="0.7"/>
<line x1="347.50" y1="320.40" x2="347.50" y2="332.80" stroke="#c8c8c8" stroke-width="0.6"/>
<line x1="364.50" y1="320.40" x2="364.50" y2="332.80" stroke="#c8c8c8" stroke-width="0.6"/>
<line x1="285.20" y1="360.10" x2="328.20" y2="360.10" stroke="#777" stroke-width="0.7" stroke-dasharray="0.7,1.3"/>
<line x1="285.60" y1="317.90" x2="285.60" y2="360.50" stroke="#888" stroke-width="0.7" stroke-dasharray="0.7,1.6"/>
<line x1="293.50" y1="360.10" x2="297.90" y2="360.10" stroke="#333" stroke-width="1.0"/>
<line x1="285.60" y1="343.56" x2="285.60" y2="346.18" stroke="#333" stroke-width="1.0"/>
<line x1="332.10" y1="360.10" x2="375.10" y2="360.10" stroke="#777" stroke-width="0.7" stroke-dasharray="0.7,1.3"/>
<line x1="332.50" y1="317.90" x2="332.50" y2="360.50" stroke="#888" stroke-width="0.7" stroke-dasharray="0.7,1.6"/>
<line x1="340.40" y1="360.10" x2="344.80" y2="360.10" stroke="#333" stroke-width="1.0"/>
<line x1="332.50" y1="343.56" x2="332.50" y2="346.18" stroke="#333" stroke-width="1.0"/>
<line x1="289.00" y1="371.80" x2="326.90" y2="371.80" stroke="#b8b8b8" stroke-width="0.6"/>
<rect x="287.00" y="379.60" width="40.40" height="25.20" fill="none" stroke="#9a9a9a" stroke-width="0.7"/>
<line x1="287.00" y1="394.90" x2="327.40" y2="394.90" stroke="#9a9a9a" stroke-width="0.6"/>
<line x1="300.60" y1="379.60" x2="300.60" y2="404.80" stroke="#6a6a6a" stroke-width="0.7"/>
<line x1="317.60" y1="379.60" x2="317.60" y2="404.80" stroke="#6a6a6a" stroke-width="0.7"/>
<line x1="300.60" y1="367.20" x2="300.60" y2="379.60" stroke="#c8c8c8" stroke-width="0.6"/>
<line x1="317.60" y1="367.20" x2="317.60" y2="379.60" stroke="#c8c8c8" stroke-width="0.6"/>
<line x1="335.90" y1="371.80" x2="373.80" y2="371.80" stroke="#b8b8b8" stroke-width="0.6"/>
<rect x="333.90" y="379.60" width="40.40" height="25.20" fill="none" stroke="#9a9a9a" stroke-width="0.7"/>
<line x1="333.90" y1="394.90" x2="374.30" y2="394.90" stroke="#9a9a9a" stroke-width="0.6"/>
<line x1="347.50" y1="379.60" x2="347.50" y2="404.80" stroke="#6a6a6a" stroke-width="0.7"/>
<line x1="364.50" y1="379.60" x2="364.50" y2="404.80" stroke="#6a6a6a" stroke-width="0.7"/>
<line x1="347.50" y1="367.20" x2="347.50" y2="379.60" stroke="#c8c8c8" stroke-width="0.6"/>
<line x1="364.50" y1="367.20" x2="364.50" y2="379.60" stroke="#c8c8c8" stroke-width="0.6"/>
<line x1="285.20" y1="407.90" x2="328.20" y2="407.90" stroke="#777" stroke-width="0.7" stroke-dasharray="0.7,1.3"/>
<line x1="285.60" y1="364.70" x2="285.60" y2="408.30" stroke="#888" stroke-width="0.7" stroke-dasharray="0.7,1.6"/>
<line x1="293.50" y1="407.90" x2="297.90" y2="407.90" stroke="#333" stroke-width="1.0"/>
<line x1="285.60" y1="390.96" x2="285.60" y2="393.64" stroke="#333" stroke-width="1.0"/>
<line x1="332.10" y1="407.90" x2="375.10" y2="407.90" stroke="#777" stroke-width="0.7" stroke-dasharray="0.7,1.3"/>
<line x1="332.50" y1="364.70" x2="332.50" y2="408.30" stroke="#888" stroke-width="0.7" stroke-dasharray="0.7,1.6"/>
<line x1="340.40" y1="407.90" x2="344.80" y2="407.90" stroke="#333" stroke-width="1.0"/>
<line x1="332.50" y1="390.96" x2="332.50" y2="393.64" stroke="#333" stroke-width="1.0"/>
<text x="293.70" y="277.50" font-size="8.2" stroke="#2a2aff" stroke-width="0.22" text-anchor="middle" fill="#2a2aff">0</text>
<text x="308.60" y="277.50" font-size="8.2" stroke="#2a2aff" stroke-width="0.22" text-anchor="middle" fill="#2a2aff">11</text>
<text x="321.70" y="277.50" font-size="8.2" stroke="#2a2aff" stroke-width="0.22" text-anchor="middle" fill="#2a2aff">0</text>
<text x="293.70" y="285.50" font-size="8.2" stroke="#2a2aff" stroke-width="0.22" text-anchor="middle" fill="#2a2aff">25</text>
<text x="308.60" y="285.50" font-size="8.2" stroke="#2a2aff" stroke-width="0.22" text-anchor="middle" fill="#2a2aff">34</text>
<text x="321.70" y="285.50" font-size="8.2" stroke="#2a2aff" stroke-width="0.22" text-anchor="middle" fill="#2a2aff">26</text>
<text x="340.60" y="277.50" font-size="8.2" stroke="#2a2aff" stroke-width="0.22" text-anchor="middle" fill="#2a2aff">1</text>
<text x="355.50" y="277.50" font-size="8.2" stroke="#2a2aff" stroke-width="0.22" text-anchor="middle" fill="#2a2aff">16</text>
<text x="368.60" y="277.50" font-size="8.2" stroke="#2a2aff" stroke-width="0.22" text-anchor="middle" fill="#2a2aff">3</text>
<text x="340.60" y="285.50" font-size="8.2" stroke="#2a2aff" stroke-width="0.22" text-anchor="middle" fill="#2a2aff">7</text>
<text x="355.50" y="285.50" font-size="8.2" stroke="#2a2aff" stroke-width="0.22" text-anchor="middle" fill="#2a2aff">40</text>
<text x="368.60" y="285.50" font-size="8.2" stroke="#2a2aff" stroke-width="0.22" text-anchor="middle" fill="#2a2aff">30</text>
<text x="293.70" y="324.40" font-size="8.2" stroke="#2a2aff" stroke-width="0.22" text-anchor="middle" fill="#2a2aff">0</text>
<text x="308.60" y="324.40" font-size="8.2" stroke="#2a2aff" stroke-width="0.22" text-anchor="middle" fill="#2a2aff">12</text>
<text x="321.70" y="324.40" font-size="8.2" stroke="#2a2aff" stroke-width="0.22" text-anchor="middle" fill="#2a2aff">16</text>
<text x="293.70" y="332.40" font-size="8.2" stroke="#2a2aff" stroke-width="0.22" text-anchor="middle" fill="#2a2aff">16</text>
<text x="308.60" y="332.40" font-size="8.2" stroke="#2a2aff" stroke-width="0.22" text-anchor="middle" fill="#2a2aff">28</text>
<text x="321.70" y="332.40" font-size="8.2" stroke="#2a2aff" stroke-width="0.22" text-anchor="middle" fill="#2a2aff">21</text>
<text x="340.60" y="324.40" font-size="8.2" stroke="#2a2aff" stroke-width="0.22" text-anchor="middle" fill="#2a2aff">1</text>
<text x="355.50" y="324.40" font-size="8.2" stroke="#2a2aff" stroke-width="0.22" text-anchor="middle" fill="#2a2aff">6</text>
<text x="368.60" y="324.40" font-size="8.2" stroke="#2a2aff" stroke-width="0.22" text-anchor="middle" fill="#2a2aff">3</text>
<text x="340.60" y="332.40" font-size="8.2" stroke="#2a2aff" stroke-width="0.22" text-anchor="middle" fill="#2a2aff">17</text>
<text x="355.50" y="332.40" font-size="8.2" stroke="#2a2aff" stroke-width="0.22" text-anchor="middle" fill="#2a2aff">49</text>
<text x="368.60" y="332.40" font-size="8.2" stroke="#2a2aff" stroke-width="0.22" text-anchor="middle" fill="#2a2aff">22</text>
<text x="293.70" y="371.20" font-size="8.2" stroke="#2a2aff" stroke-width="0.22" text-anchor="middle" fill="#2a2aff">1</text>
<text x="308.60" y="371.20" font-size="8.2" stroke="#2a2aff" stroke-width="0.22" text-anchor="middle" fill="#2a2aff">30</text>
<text x="321.70" y="371.20" font-size="8.2" stroke="#2a2aff" stroke-width="0.22" text-anchor="middle" fill="#2a2aff">0</text>
<text x="293.70" y="379.20" font-size="8.2" stroke="#2a2aff" stroke-width="0.22" text-anchor="middle" fill="#2a2aff">16</text>
<text x="308.60" y="379.20" font-size="8.2" stroke="#2a2aff" stroke-width="0.22" text-anchor="middle" fill="#2a2aff">37</text>
<text x="321.70" y="379.20" font-size="8.2" stroke="#2a2aff" stroke-width="0.22" text-anchor="middle" fill="#2a2aff">16</text>
<text x="340.60" y="371.20" font-size="8.2" stroke="#2a2aff" stroke-width="0.22" text-anchor="middle" fill="#2a2aff">2</text>
<text x="355.50" y="371.20" font-size="8.2" stroke="#2a2aff" stroke-width="0.22" text-anchor="middle" fill="#2a2aff">36</text>
<text x="368.60" y="371.20" font-size="8.2" stroke="#2a2aff" stroke-width="0.22" text-anchor="middle" fill="#2a2aff">2</text>
<text x="340.60" y="379.20" font-size="8.2" stroke="#2a2aff" stroke-width="0.22" text-anchor="middle" fill="#2a2aff">5</text>
<text x="355.50" y="379.20" font-size="8.2" stroke="#2a2aff" stroke-width="0.22" text-anchor="middle" fill="#2a2aff">42</text>
<text x="368.60" y="379.20" font-size="8.2" stroke="#2a2aff" stroke-width="0.22" text-anchor="middle" fill="#2a2aff">9</text>
<text x="380.10" y="293.80" font-size="8.4" stroke="#231f20" stroke-width="0.22" fill="#231f20" textLength="14.5" lengthAdjust="spacingAndGlyphs">Ctrl.</text>
<text x="380.10" y="341.60" font-size="8.4" stroke="#231f20" stroke-width="0.22" fill="#231f20" textLength="10.2" lengthAdjust="spacingAndGlyphs">DT</text>
<text x="380.10" y="383.00" font-size="8.4" stroke="#231f20" stroke-width="0.22" fill="#231f20" textLength="18.0" lengthAdjust="spacingAndGlyphs">IL-2 /</text>
<text x="380.10" y="392.30" font-size="8.4" stroke="#231f20" stroke-width="0.22" fill="#231f20" textLength="24.1" lengthAdjust="spacingAndGlyphs">JES6-1</text>
<text x="278.50" y="339.30" font-size="8.8" stroke="#231f20" stroke-width="0.22" text-anchor="middle" fill="#231f20" textLength="37.5" lengthAdjust="spacingAndGlyphs" transform="rotate(-90 278.50 339.30)">MMPsense</text>
<text x="322.20" y="420.80" font-size="9.7" stroke="#231f20" stroke-width="0.22" fill="#231f20" textLength="15.9" lengthAdjust="spacingAndGlyphs">Ly6C</text>
<line x1="439.80" y1="284.50" x2="439.80" y2="378.70" stroke="#111" stroke-width="1.1"/>
<line x1="439.30" y1="378.30" x2="512.00" y2="378.30" stroke="#111" stroke-width="1.1"/>
<line x1="436.60" y1="378.30" x2="439.80" y2="378.30" stroke="#111" stroke-width="0.9"/>
<text x="434.80" y="381.00" font-size="7.8" stroke="#231f20" stroke-width="0.22" text-anchor="end" fill="#231f20">0</text>
<line x1="436.60" y1="360.35" x2="439.80" y2="360.35" stroke="#111" stroke-width="0.9"/>
<text x="434.80" y="363.05" font-size="7.8" stroke="#231f20" stroke-width="0.22" text-anchor="end" fill="#231f20">10</text>
<line x1="436.60" y1="342.40" x2="439.80" y2="342.40" stroke="#111" stroke-width="0.9"/>
<text x="434.80" y="345.10" font-size="7.8" stroke="#231f20" stroke-width="0.22" text-anchor="end" fill="#231f20">20</text>
<line x1="436.60" y1="324.45" x2="439.80" y2="324.45" stroke="#111" stroke-width="0.9"/>
<text x="434.80" y="327.15" font-size="7.8" stroke="#231f20" stroke-width="0.22" text-anchor="end" fill="#231f20">30</text>
<line x1="436.60" y1="306.50" x2="439.80" y2="306.50" stroke="#111" stroke-width="0.9"/>
<text x="434.80" y="309.20" font-size="7.8" stroke="#231f20" stroke-width="0.22" text-anchor="end" fill="#231f20">40</text>
<line x1="436.60" y1="288.55" x2="439.80" y2="288.55" stroke="#111" stroke-width="0.9"/>
<text x="434.80" y="291.25" font-size="7.8" stroke="#231f20" stroke-width="0.22" text-anchor="end" fill="#231f20">50</text>
<line x1="444.50" y1="357.12" x2="444.50" y2="360.89" stroke="#222" stroke-width="0.8"/>
<line x1="442.90" y1="357.12" x2="446.10" y2="357.12" stroke="#222" stroke-width="0.8"/>
<rect x="441.70" y="360.89" width="5.60" height="17.41" fill="#2e4b8b" stroke="#333" stroke-width="0.4"/>
<line x1="453.45" y1="364.12" x2="453.45" y2="365.20" stroke="#222" stroke-width="0.8"/>
<line x1="451.85" y1="364.12" x2="455.05" y2="364.12" stroke="#222" stroke-width="0.8"/>
<rect x="450.50" y="365.20" width="5.90" height="13.10" fill="#be1237" stroke="#333" stroke-width="0.4"/>
<line x1="462.70" y1="324.27" x2="462.70" y2="327.68" stroke="#222" stroke-width="0.8"/>
<line x1="461.10" y1="324.27" x2="464.30" y2="324.27" stroke="#222" stroke-width="0.8"/>
<rect x="459.90" y="327.68" width="5.60" height="50.62" fill="#72b843" stroke="#333" stroke-width="0.4"/>
<line x1="481.10" y1="337.01" x2="481.10" y2="341.50" stroke="#222" stroke-width="0.8"/>
<line x1="479.50" y1="337.01" x2="482.70" y2="337.01" stroke="#222" stroke-width="0.8"/>
<rect x="478.30" y="341.50" width="5.60" height="36.80" fill="#2e4b8b" stroke="#333" stroke-width="0.4"/>
<line x1="490.05" y1="357.30" x2="490.05" y2="358.20" stroke="#222" stroke-width="0.8"/>
<line x1="488.45" y1="357.30" x2="491.65" y2="357.30" stroke="#222" stroke-width="0.8"/>
<rect x="487.10" y="358.20" width="5.90" height="20.10" fill="#be1237" stroke="#333" stroke-width="0.4"/>
<line x1="499.20" y1="305.42" x2="499.20" y2="305.96" stroke="#222" stroke-width="0.8"/>
<line x1="497.60" y1="305.42" x2="500.80" y2="305.42" stroke="#222" stroke-width="0.8"/>
<rect x="496.00" y="305.96" width="6.40" height="72.34" fill="#72b843" stroke="#333" stroke-width="0.4"/>
<line x1="444.00" y1="354.10" x2="454.70" y2="354.10" stroke="#222" stroke-width="1.0"/>
<text x="449.55" y="354.60" font-size="7.4" stroke="#231f20" stroke-width="0.22" text-anchor="middle" fill="#231f20" letter-spacing="0.7">*</text>
<line x1="445.20" y1="319.40" x2="463.10" y2="319.40" stroke="#222" stroke-width="1.0"/>
<text x="454.45" y="320.00" font-size="7.4" stroke="#231f20" stroke-width="0.22" text-anchor="middle" fill="#231f20" letter-spacing="0.7">***</text>
<line x1="481.20" y1="334.20" x2="490.70" y2="334.20" stroke="#222" stroke-width="1.0"/>
<text x="486.55" y="334.40" font-size="7.4" stroke="#231f20" stroke-width="0.22" text-anchor="middle" fill="#231f20" letter-spacing="0.7">**</text>
<line x1="479.30" y1="301.00" x2="497.20" y2="301.00" stroke="#222" stroke-width="1.0"/>
<text x="488.75" y="301.60" font-size="7.4" stroke="#231f20" stroke-width="0.22" text-anchor="middle" fill="#231f20" letter-spacing="0.7">***</text>
<line x1="471.90" y1="288.00" x2="471.90" y2="384.50" stroke="#333" stroke-width="1.0" stroke-dasharray="3,2"/>
<text x="432.90" y="389.00" font-size="8.4" stroke="#231f20" stroke-width="0.22" fill="#231f20" textLength="35.6" lengthAdjust="spacingAndGlyphs">Thrombus</text>
<text x="475.90" y="389.00" font-size="8.4" stroke="#231f20" stroke-width="0.22" fill="#231f20" textLength="34.8" lengthAdjust="spacingAndGlyphs">Vein Wall</text>
<text x="419.20" y="331.00" font-size="9.3" fill="#231f20" stroke="#231f20" stroke-width="0.22" text-anchor="middle" textLength="70" lengthAdjust="spacingAndGlyphs" transform="rotate(-90 419.20 331.00)">% MMP<tspan font-size="6.32" dy="-3.2">+</tspan><tspan dy="3.2"> monocytes</tspan></text>
</g>
<rect x="1" y="1" width="1" height="445" fill="#111" opacity="0.14"/>
<rect x="518" y="1" width="1" height="445" fill="#111" opacity="0.55"/>
<rect x="1" y="1" width="518" height="1" fill="#111" opacity="0.14"/>
<rect x="1" y="445" width="518" height="1" fill="#111" opacity="0.42"/>
<rect x="0" y="0" width="1" height="447" fill="#0a0a0a"/>
<rect x="519" y="0" width="1" height="447" fill="#0a0a0a"/>
<rect x="0" y="0" width="520" height="1" fill="#0a0a0a"/>
<rect x="0" y="446" width="520" height="1" fill="#0a0a0a"/>
</svg>
</body></html>
